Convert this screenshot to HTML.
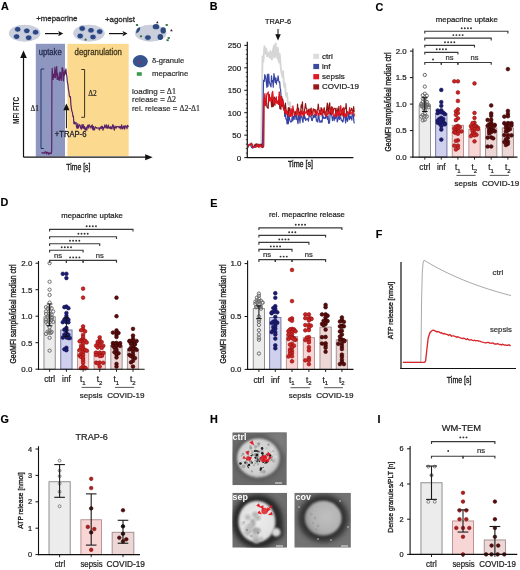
<!DOCTYPE html>
<html><head><meta charset="utf-8"><style>
html,body{margin:0;padding:0;background:#fff;}
svg{display:block;font-family:"Liberation Sans", sans-serif;will-change:transform;}
</style></head><body>
<svg width="520" height="570" viewBox="0 0 520 570">
<rect width="520" height="570" fill="#fff"/>
<text x="0.90" y="9.90" font-size="10.8" fill="#000" text-anchor="start" font-weight="bold" stroke="#000" stroke-width="0.15" >A</text>
<text x="36.20" y="21.20" font-size="8.0" fill="#2a2a2a" text-anchor="start" textLength="41.20" lengthAdjust="spacingAndGlyphs" stroke="#2a2a2a" stroke-width="0.3" >+mepacrine</text>
<text x="105.00" y="21.80" font-size="8.0" fill="#2a2a2a" text-anchor="start" textLength="30.00" lengthAdjust="spacingAndGlyphs" stroke="#2a2a2a" stroke-width="0.3" >+agonist</text>
<ellipse cx="24.65" cy="33.30" rx="15.80" ry="8.50" fill="#cbcfdc" stroke="none" stroke-width="1" />
<ellipse cx="17.70" cy="29.30" rx="3.30" ry="2.90" fill="#2b4784" stroke="#e4e8f2" stroke-width="0.7" />
<ellipse cx="26.80" cy="30.80" rx="3.30" ry="2.90" fill="#2b4784" stroke="#e4e8f2" stroke-width="0.7" />
<ellipse cx="35.60" cy="32.20" rx="3.30" ry="2.90" fill="#2b4784" stroke="#e4e8f2" stroke-width="0.7" />
<ellipse cx="16.60" cy="36.60" rx="3.30" ry="2.90" fill="#2b4784" stroke="#e4e8f2" stroke-width="0.7" />
<ellipse cx="28.70" cy="37.70" rx="3.30" ry="2.90" fill="#2b4784" stroke="#e4e8f2" stroke-width="0.7" />
<ellipse cx="89.00" cy="33.20" rx="15.80" ry="8.50" fill="#cbcfdc" stroke="none" stroke-width="1" />
<ellipse cx="82.20" cy="28.50" rx="3.30" ry="2.90" fill="#2b4784" stroke="#e4e8f2" stroke-width="0.7" />
<ellipse cx="91.00" cy="30.30" rx="3.30" ry="2.90" fill="#2b4784" stroke="#e4e8f2" stroke-width="0.7" />
<ellipse cx="99.70" cy="31.60" rx="3.30" ry="2.90" fill="#2b4784" stroke="#e4e8f2" stroke-width="0.7" />
<ellipse cx="80.20" cy="36.00" rx="3.30" ry="2.90" fill="#2b4784" stroke="#e4e8f2" stroke-width="0.7" />
<ellipse cx="93.00" cy="37.00" rx="3.30" ry="2.90" fill="#2b4784" stroke="#e4e8f2" stroke-width="0.7" />
<circle cx="85.60" cy="39.70" r="1.10" fill="#3a6a50" stroke="none" stroke-width="1" />
<ellipse cx="150.70" cy="33.20" rx="15.80" ry="8.50" fill="#cbcfdc" stroke="none" stroke-width="1" />
<path d="M136.2,33.5 Q135.8,27.5 140.2,27.2 Q140.8,31 136.2,33.5 Z" fill="#2c4a80"/>
<ellipse cx="156.00" cy="26.70" rx="3.30" ry="2.60" fill="#2c4a80" stroke="none" stroke-width="1" />
<ellipse cx="163.20" cy="30.40" rx="2.70" ry="3.10" fill="#2c4a80" stroke="none" stroke-width="1" />
<ellipse cx="147.90" cy="37.60" rx="3.30" ry="2.80" fill="#2c4a80" stroke="#dfe4f0" stroke-width="0.6" />
<ellipse cx="160.30" cy="37.00" rx="2.80" ry="2.90" fill="#2c4a80" stroke="none" stroke-width="1" />
<rect x="135.90" y="24.10" width="2.20" height="1.80" fill="#2e6e3e" stroke="none" stroke-width="1" />
<rect x="165.60" y="24.10" width="2.20" height="1.80" fill="#2e6e3e" stroke="none" stroke-width="1" />
<rect x="139.90" y="35.40" width="2.20" height="1.80" fill="#2e6e3e" stroke="none" stroke-width="1" />
<rect x="167.60" y="37.10" width="2.20" height="1.80" fill="#2e6e3e" stroke="none" stroke-width="1" />
<rect x="166.50" y="39.30" width="2.20" height="1.80" fill="#2e6e3e" stroke="none" stroke-width="1" />
<path d="M156.00,23.30 L157.30,21.00 L158.60,23.30 Z" fill="#3a1a30"/>
<path d="M170.10,31.30 L171.40,29.00 L172.70,31.30 Z" fill="#3a1a30"/>
<line x1="45.00" y1="33.60" x2="58.70" y2="33.60" stroke="#111" stroke-width="1.2" />
<path d="M58.20,30.90 L63.20,33.60 L58.20,36.30 L59.20,33.60 Z" fill="#111"/>
<line x1="109.00" y1="33.60" x2="123.00" y2="33.60" stroke="#111" stroke-width="1.2" />
<path d="M122.50,30.90 L127.50,33.60 L122.50,36.30 L123.50,33.60 Z" fill="#111"/>
<rect x="35.80" y="43.80" width="29.20" height="112.80" fill="#8d97c0" stroke="none" stroke-width="1" />
<rect x="67.40" y="43.80" width="61.30" height="112.30" fill="#fbda90" stroke="none" stroke-width="1" />
<text x="38.70" y="54.80" font-size="8.2" fill="#262c50" text-anchor="start" textLength="23.00" lengthAdjust="spacingAndGlyphs" stroke="#262c50" stroke-width="0.3" >uptake</text>
<text x="74.60" y="55.00" font-size="8.2" fill="#42361a" text-anchor="start" textLength="47.30" lengthAdjust="spacingAndGlyphs" stroke="#42361a" stroke-width="0.3" >degranulation</text>
<ellipse cx="140.30" cy="61.30" rx="7.50" ry="6.20" fill="#36538f" stroke="none" stroke-width="1" />
<ellipse cx="139.50" cy="62.00" rx="2.00" ry="1.50" fill="#7a3a6a" stroke="none" stroke-width="1" opacity="0.8"/>
<text x="151.90" y="62.80" font-size="7.7" fill="#333" text-anchor="start" textLength="32.30" lengthAdjust="spacingAndGlyphs" stroke="#333" stroke-width="0.22" >&#948;-granule</text>
<rect x="136.80" y="72.20" width="5.00" height="3.60" fill="#3c9a4e" stroke="none" stroke-width="1" />
<text x="151.90" y="75.60" font-size="7.8" fill="#333" text-anchor="start" textLength="36.40" lengthAdjust="spacingAndGlyphs" stroke="#333" stroke-width="0.22" >mepacrine</text>
<text x="132.00" y="93.60" font-size="7.9" fill="#333" text-anchor="start" textLength="44.00" lengthAdjust="spacingAndGlyphs" stroke="#333" stroke-width="0.22" >loading = <tspan font-family="Liberation Serif">&#916;1</tspan></text>
<text x="132.00" y="101.70" font-size="7.9" fill="#333" text-anchor="start" textLength="44.00" lengthAdjust="spacingAndGlyphs" stroke="#333" stroke-width="0.22" >release = <tspan font-family="Liberation Serif">&#916;2</tspan></text>
<text x="132.00" y="111.40" font-size="7.8" fill="#333" text-anchor="start" textLength="68.00" lengthAdjust="spacingAndGlyphs" stroke="#333" stroke-width="0.22" >rel. release = <tspan font-family="Liberation Serif">&#916;2-&#916;1</tspan></text>
<line x1="23.50" y1="157.20" x2="23.50" y2="56.00" stroke="#111" stroke-width="1.2" />
<path d="M20.2,58 L23.5,50.6 L26.8,58 Z" fill="#111"/>
<line x1="23.50" y1="157.20" x2="147.00" y2="157.20" stroke="#111" stroke-width="1.2" />
<path d="M145.2,154.2 L152.7,157.2 L145.2,160.2 Z" fill="#111"/>
<path d="M44.2,69 L41,69 L41,148.5 L43.8,148.5" stroke="#283068" stroke-width="1" fill="none" />
<path d="M81.3,69.5 L84.6,69.5 L84.6,117.3 L81.3,117.3" stroke="#3a3020" stroke-width="1" fill="none" />
<text x="30.60" y="110.80" font-size="8.8" fill="#222" text-anchor="start" font-family='"Liberation Serif", serif' textLength="8.40" lengthAdjust="spacingAndGlyphs" stroke="#222" stroke-width="0.22" >&#916;1</text>
<text x="88.20" y="95.80" font-size="8.8" fill="#222" text-anchor="start" font-family='"Liberation Serif", serif' textLength="8.50" lengthAdjust="spacingAndGlyphs" stroke="#222" stroke-width="0.22" >&#916;2</text>
<line x1="66.40" y1="128.30" x2="66.40" y2="108.00" stroke="#111" stroke-width="1" />
<path d="M63.3,110.3 L66.4,103.4 L69.5,110.3 Z" fill="#111"/>
<text x="54.80" y="137.20" font-size="8.6" fill="#1e1e2a" text-anchor="start" textLength="31.60" lengthAdjust="spacingAndGlyphs" stroke="#1e1e2a" stroke-width="0.3" >+TRAP-6</text>
<text x="19.00" y="110.40" font-size="8.4" fill="#222" text-anchor="middle" font-weight="bold" textLength="27.00" lengthAdjust="spacingAndGlyphs" transform="rotate(-90 19.00 110.40)" >MFI FITC</text>
<text x="66.30" y="169.80" font-size="8.8" fill="#1a1a1a" text-anchor="start" textLength="24.10" lengthAdjust="spacingAndGlyphs" stroke="#1a1a1a" stroke-width="0.35" >Time [s]</text>
<path d="M41.60,152.32 L42.30,153.11 L43.00,152.66 L43.70,153.27 L44.40,153.33 L45.10,151.87 L45.80,151.73 L46.50,153.88 L47.20,152.37 L47.90,152.31 L48.60,154.29 L49.30,152.92 L50.00,153.87 L50.70,152.94 L51.40,153.36 L51.70,150.00 L51.90,80.00 L52.20,68.33 L52.65,75.84 L53.10,79.45 L53.55,74.11 L54.00,77.49 L54.45,76.41 L54.90,66.99 L55.35,77.75 L55.80,75.16 L56.25,70.67 L56.70,66.48 L57.15,79.42 L57.60,73.33 L58.05,77.14 L58.50,79.62 L58.95,77.07 L59.40,80.28 L59.85,72.12 L60.30,78.41 L60.75,72.89 L61.20,80.50 L61.65,79.62 L62.10,67.51 L62.55,68.11 L63.00,69.36 L63.45,80.96 L63.90,72.76 L64.35,75.71 L64.80,70.67 L65.25,73.86 L65.70,71.98 L65.90,68.96 L66.40,73.81 L66.90,77.01 L67.40,82.46 L67.90,84.11 L68.40,89.05 L68.90,91.75 L69.40,95.91 L69.90,96.88 L70.40,96.53 L70.90,104.62 L71.40,108.56 L71.90,111.35 L72.40,112.21 L72.90,116.43 L73.40,116.13 L73.90,123.68 L74.20,121.50 L74.80,123.91 L75.40,123.02 L76.00,122.37 L76.60,127.29 L77.20,128.45 L77.80,123.72 L78.40,127.98 L79.00,126.01 L79.60,124.74 L80.20,125.68 L80.80,128.46 L81.40,129.14 L82.00,124.58 L82.60,127.84 L83.20,124.71 L83.80,128.52 L84.40,126.39 L85.00,129.50 L85.60,130.08 L86.20,127.44 L86.80,130.22 L87.40,126.37 L88.00,125.08 L88.60,128.02 L89.20,124.84 L89.80,125.78 L90.40,126.96 L91.00,128.10 L91.60,125.56 L92.20,124.93 L92.80,129.55 L93.40,126.45 L94.00,130.06 L94.60,129.72 L95.20,126.81 L95.80,127.27 L96.40,127.61 L97.00,128.30 L97.60,128.03 L98.20,127.83 L98.80,128.17 L99.40,129.97 L100.00,127.54 L100.60,127.11 L101.20,128.73 L101.80,126.03 L102.40,126.39 L103.00,130.18 L103.60,127.62 L104.20,127.77 L104.80,124.76 L105.40,127.03 L106.00,127.95 L106.60,124.81 L107.20,128.15 L107.80,128.24 L108.40,125.04 L109.00,128.21 L109.60,127.31 L110.20,128.50 L110.80,126.67 L111.40,128.66 L112.00,128.83 L112.60,124.82 L113.20,125.04 L113.80,128.49 L114.40,130.09 L115.00,126.11 L115.60,127.26 L116.20,128.02 L116.80,126.49 L117.40,126.74 L118.00,126.45 L118.60,126.77 L119.20,128.04 L119.80,126.38 L120.40,126.81 L121.00,129.02 L121.60,124.85 L122.20,127.89 L122.80,128.82 L123.40,126.44 L124.00,125.95 L124.60,129.20 L125.20,126.04 L125.80,125.75 L126.40,127.14 L127.00,128.61 L127.60,125.27 L128.20,126.50 L128.80,126.57" stroke="#5a2468" stroke-width="1.2" fill="none" stroke-linejoin="round"/>
<text x="209.80" y="10.30" font-size="10.8" fill="#000" text-anchor="start" font-weight="bold" stroke="#000" stroke-width="0.15" >B</text>
<text x="264.90" y="24.00" font-size="7.7" fill="#222" text-anchor="start" textLength="26.20" lengthAdjust="spacingAndGlyphs" stroke="#222" stroke-width="0.22" >TRAP-6</text>
<line x1="278.00" y1="29.00" x2="278.00" y2="36.00" stroke="#111" stroke-width="1" />
<path d="M275.2,34.2 L278,40.4 L280.8,34.2 Z" fill="#111"/>
<line x1="244.30" y1="157.60" x2="247.30" y2="157.60" stroke="#111" stroke-width="1" />
<text x="241.20" y="160.50" font-size="8" fill="#222" text-anchor="end" stroke="#222" stroke-width="0.22" >0</text>
<line x1="244.30" y1="135.16" x2="247.30" y2="135.16" stroke="#111" stroke-width="1" />
<text x="241.20" y="138.06" font-size="8" fill="#222" text-anchor="end" stroke="#222" stroke-width="0.22" >50</text>
<line x1="244.30" y1="112.72" x2="247.30" y2="112.72" stroke="#111" stroke-width="1" />
<text x="241.20" y="115.62" font-size="8" fill="#222" text-anchor="end" stroke="#222" stroke-width="0.22" >100</text>
<line x1="244.30" y1="90.28" x2="247.30" y2="90.28" stroke="#111" stroke-width="1" />
<text x="241.20" y="93.18" font-size="8" fill="#222" text-anchor="end" stroke="#222" stroke-width="0.22" >150</text>
<line x1="244.30" y1="67.84" x2="247.30" y2="67.84" stroke="#111" stroke-width="1" />
<text x="241.20" y="70.74" font-size="8" fill="#222" text-anchor="end" stroke="#222" stroke-width="0.22" >200</text>
<line x1="244.30" y1="45.40" x2="247.30" y2="45.40" stroke="#111" stroke-width="1" />
<text x="241.20" y="48.30" font-size="8" fill="#222" text-anchor="end" stroke="#222" stroke-width="0.22" >250</text>
<line x1="245.80" y1="153.11" x2="247.30" y2="153.11" stroke="#111" stroke-width="0.8" />
<line x1="245.80" y1="148.62" x2="247.30" y2="148.62" stroke="#111" stroke-width="0.8" />
<line x1="245.80" y1="144.14" x2="247.30" y2="144.14" stroke="#111" stroke-width="0.8" />
<line x1="245.80" y1="139.65" x2="247.30" y2="139.65" stroke="#111" stroke-width="0.8" />
<line x1="245.80" y1="130.67" x2="247.30" y2="130.67" stroke="#111" stroke-width="0.8" />
<line x1="245.80" y1="126.18" x2="247.30" y2="126.18" stroke="#111" stroke-width="0.8" />
<line x1="245.80" y1="121.70" x2="247.30" y2="121.70" stroke="#111" stroke-width="0.8" />
<line x1="245.80" y1="117.21" x2="247.30" y2="117.21" stroke="#111" stroke-width="0.8" />
<line x1="245.80" y1="108.23" x2="247.30" y2="108.23" stroke="#111" stroke-width="0.8" />
<line x1="245.80" y1="103.74" x2="247.30" y2="103.74" stroke="#111" stroke-width="0.8" />
<line x1="245.80" y1="99.26" x2="247.30" y2="99.26" stroke="#111" stroke-width="0.8" />
<line x1="245.80" y1="94.77" x2="247.30" y2="94.77" stroke="#111" stroke-width="0.8" />
<line x1="245.80" y1="85.79" x2="247.30" y2="85.79" stroke="#111" stroke-width="0.8" />
<line x1="245.80" y1="81.30" x2="247.30" y2="81.30" stroke="#111" stroke-width="0.8" />
<line x1="245.80" y1="76.82" x2="247.30" y2="76.82" stroke="#111" stroke-width="0.8" />
<line x1="245.80" y1="72.33" x2="247.30" y2="72.33" stroke="#111" stroke-width="0.8" />
<line x1="245.80" y1="63.35" x2="247.30" y2="63.35" stroke="#111" stroke-width="0.8" />
<line x1="245.80" y1="58.86" x2="247.30" y2="58.86" stroke="#111" stroke-width="0.8" />
<line x1="245.80" y1="54.38" x2="247.30" y2="54.38" stroke="#111" stroke-width="0.8" />
<line x1="245.80" y1="49.89" x2="247.30" y2="49.89" stroke="#111" stroke-width="0.8" />
<line x1="247.30" y1="41.70" x2="247.30" y2="158.10" stroke="#111" stroke-width="1.2" />
<line x1="246.70" y1="157.60" x2="353.40" y2="157.60" stroke="#111" stroke-width="1.2" />
<text x="288.00" y="167.30" font-size="8.8" fill="#1a1a1a" text-anchor="start" textLength="25.00" lengthAdjust="spacingAndGlyphs" stroke="#1a1a1a" stroke-width="0.35" >Time [s]</text>
<path d="M248.00,145.74 L249.20,145.16 L250.40,143.20 L251.60,145.67 L252.80,145.44 L254.00,145.01 L255.20,147.18 L256.40,145.42 L257.60,144.78 L258.80,143.90 L260.00,147.67 L261.20,146.54 L262.50,56.34 L263.30,61.86 L264.01,51.63 L264.45,46.32 L265.21,48.42 L265.86,53.87 L266.28,48.61 L266.72,53.40 L267.23,56.43 L267.82,52.50 L268.54,53.74 L269.19,55.85 L269.85,57.74 L270.37,51.00 L271.15,53.09 L271.82,59.39 L272.32,58.81 L272.77,51.36 L273.33,48.83 L273.89,45.91 L274.62,57.33 L275.11,44.51 L275.70,43.46 L276.27,56.19 L276.91,47.89 L277.43,58.46 L277.97,48.07 L278.66,61.19 L279.17,62.49 L279.61,53.87 L280.10,58.21 L280.68,66.68 L281.36,71.47 L282.01,75.35 L282.58,77.34 L283.10,71.27 L283.81,82.80 L284.55,87.55 L285.11,83.37 L285.76,94.39 L286.54,96.61 L287.05,93.24 L287.59,100.07 L288.04,103.73 L288.67,104.55 L289.30,105.52 L289.89,102.16 L290.48,107.31 L291.21,112.55 L291.69,107.52 L292.40,114.40 L292.89,111.15 L293.65,116.37 L294.41,112.35 L294.98,115.84 L295.75,115.24 L296.26,112.61 L296.79,115.52 L297.23,115.29 L297.96,113.55 L298.71,115.39 L299.23,114.31 L299.71,114.66 L300.18,114.69 L300.95,113.36 L301.58,115.68 L302.01,112.23 L302.77,116.21 L303.37,113.03 L304.15,115.97 L304.83,112.27 L305.51,112.75 L306.05,113.24 L306.79,114.44 L307.52,113.74 L308.07,113.70 L308.52,113.44 L309.26,113.04 L309.94,113.70 L310.67,115.93 L311.10,113.61 L311.60,113.18 L312.24,112.18 L312.66,114.96 L313.16,115.55 L313.82,114.33 L314.35,113.32 L314.93,112.69 L315.67,114.59 L316.20,115.70 L316.92,112.50 L317.68,115.07 L318.26,115.08 L318.83,113.50 L319.37,112.54 L319.95,115.98 L320.68,116.12 L321.31,114.92 L321.74,115.70 L322.17,112.59 L322.64,116.10 L323.22,113.48 L323.93,112.01 L324.42,114.18 L324.84,114.19 L325.33,115.09 L326.00,113.97 L326.69,114.54 L327.44,115.92 L328.12,115.73 L328.76,112.23 L329.39,112.36 L330.15,114.23 L330.64,113.07 L331.29,113.09 L332.04,111.91 L332.65,112.76 L333.40,112.47 L333.85,114.33 L334.54,114.12 L335.25,116.02 L335.74,114.81 L336.21,115.64 L336.89,112.54 L337.65,114.10 L338.10,115.32 L338.62,113.04 L339.23,112.52 L339.76,114.60 L340.51,115.38 L341.28,113.96 L341.77,113.91 L342.41,116.19 L343.01,114.51 L343.64,114.11 L344.08,113.89 L344.84,112.17 L345.43,115.74 L346.15,112.27 L346.68,115.45 L347.43,115.73 L347.86,115.44 L348.53,114.86 L349.17,115.84 L349.64,114.02 L350.13,113.93 L350.68,114.46 L351.16,115.39 L351.81,113.93 L352.45,112.47 L353.14,112.67 L353.67,114.90 L354.17,111.83 L354.64,115.24" stroke="#d6d6d6" stroke-width="1.9" fill="none" stroke-linejoin="round"/>
<path d="M248.00,145.62 L249.20,144.63 L250.40,144.59 L251.60,147.41 L252.80,148.12 L254.00,146.16 L255.20,146.70 L256.40,143.81 L257.60,144.46 L258.80,144.94 L260.00,145.17 L261.20,144.61 L262.40,147.39 L263.50,80.41 L264.30,81.27 L264.78,74.58 L265.22,75.83 L265.67,77.72 L266.21,81.78 L266.93,87.32 L267.37,74.45 L267.98,86.28 L268.75,73.99 L269.21,81.51 L269.68,83.10 L270.32,85.24 L271.00,86.85 L271.48,75.87 L272.04,81.57 L272.68,80.74 L273.23,87.15 L273.92,73.69 L274.69,78.06 L275.24,82.37 L275.90,77.91 L276.36,84.21 L276.92,80.24 L277.63,80.41 L278.06,75.77 L278.63,80.13 L279.13,82.44 L279.69,81.85 L280.15,88.13 L280.63,89.61 L281.07,97.62 L281.61,96.68 L282.05,101.31 L282.54,105.97 L283.14,101.87 L283.73,104.88 L284.21,107.37 L284.76,116.49 L285.45,112.07 L285.87,118.95 L286.57,119.57 L287.08,123.85 L287.72,113.34 L288.32,123.68 L289.02,114.98 L289.53,118.26 L290.17,121.11 L290.91,122.19 L291.65,120.94 L292.25,116.44 L292.75,120.87 L293.42,116.46 L294.16,119.41 L294.73,113.39 L295.38,114.03 L296.07,119.44 L296.82,115.44 L297.36,119.97 L297.98,123.76 L298.73,115.35 L299.48,118.18 L300.03,122.88 L300.57,113.88 L301.18,117.24 L301.79,116.39 L302.30,119.56 L302.97,122.41 L303.50,116.45 L304.16,113.87 L304.59,118.69 L305.07,116.75 L305.58,120.41 L306.00,120.06 L306.49,119.28 L307.25,118.54 L307.72,118.94 L308.45,121.25 L309.18,114.98 L309.79,115.74 L310.45,116.80 L311.07,116.61 L311.75,120.47 L312.30,120.63 L312.81,118.08 L313.24,115.28 L314.00,117.49 L314.73,114.28 L315.20,117.04 L315.84,115.49 L316.48,121.11 L317.04,119.80 L317.75,122.11 L318.26,113.48 L318.70,114.94 L319.41,120.08 L319.94,122.46 L320.66,121.67 L321.09,120.62 L321.57,122.18 L322.10,121.89 L322.63,114.65 L323.09,116.56 L323.67,118.26 L324.38,118.50 L324.97,117.11 L325.54,118.37 L326.06,113.98 L326.79,116.50 L327.45,119.34 L328.09,115.82 L328.56,123.27 L329.01,123.33 L329.52,122.72 L330.16,113.54 L330.85,113.71 L331.35,113.96 L331.84,115.79 L332.46,120.54 L332.91,117.40 L333.69,115.70 L334.24,120.73 L334.87,116.73 L335.37,118.74 L336.09,115.78 L336.65,114.65 L337.24,121.84 L337.86,120.04 L338.42,117.34 L339.03,113.68 L339.54,119.43 L340.23,117.13 L340.84,117.52 L341.40,120.60 L342.18,120.38 L342.76,122.08 L343.26,120.47 L343.80,113.84 L344.34,116.86 L344.95,116.97 L345.61,122.85 L346.32,113.28 L346.80,119.22 L347.53,121.43 L348.18,117.08 L348.77,113.61 L349.53,119.72 L350.08,116.24 L350.58,118.27 L351.18,116.81 L351.86,120.11 L352.29,114.35 L352.85,113.52 L353.32,114.93 L353.86,121.15 L354.30,123.40" stroke="#3844a4" stroke-width="1.2" fill="none" stroke-linejoin="round"/>
<path d="M248.00,147.60 L249.20,144.39 L250.40,144.66 L251.60,143.11 L252.80,146.72 L254.00,146.80 L255.20,144.22 L256.40,144.63 L257.60,146.54 L258.80,144.49 L260.00,146.04 L261.20,143.99 L262.40,147.54 L263.60,146.97 L263.80,101.95 L264.60,95.82 L265.15,105.60 L265.86,99.94 L266.33,101.17 L266.99,107.06 L267.65,107.70 L268.19,108.31 L268.68,94.65 L269.25,94.47 L269.82,100.31 L270.56,99.10 L271.02,100.59 L271.67,106.81 L272.12,96.23 L272.73,106.62 L273.31,106.25 L274.02,101.94 L274.47,97.09 L274.93,105.30 L275.36,98.28 L275.82,101.56 L276.27,102.25 L276.94,101.42 L277.52,102.18 L278.10,100.49 L278.55,102.34 L279.06,96.37 L279.81,108.56 L280.29,98.84 L280.91,109.29 L281.59,96.46 L282.16,106.04 L282.78,98.98 L283.30,108.23 L283.79,104.75 L284.37,110.10 L284.93,113.28 L285.47,103.12 L286.10,111.57 L286.85,111.44 L287.37,115.09 L287.84,113.76 L288.34,107.60 L288.86,113.82 L289.49,107.88 L290.02,109.71 L290.64,111.05 L291.33,111.76 L291.89,112.76 L292.50,109.61 L293.25,110.91 L294.01,112.07 L294.52,115.03 L295.19,114.73 L295.77,111.46 L296.47,113.79 L297.05,114.82 L297.52,104.01 L298.02,110.64 L298.57,108.32 L299.19,115.49 L299.70,112.07 L300.44,115.36 L301.19,104.78 L301.76,107.94 L302.48,101.90 L303.01,114.77 L303.65,115.82 L304.35,111.86 L304.87,108.01 L305.54,103.48 L306.04,107.87 L306.79,108.95 L307.37,113.07 L307.80,114.76 L308.51,110.16 L309.12,109.11 L309.86,115.30 L310.49,109.44 L311.16,108.04 L311.65,115.62 L312.24,112.73 L312.70,114.07 L313.21,108.92 L313.67,108.86 L314.10,110.41 L314.75,109.60 L315.25,109.85 L315.92,114.38 L316.59,112.75 L317.18,109.77 L317.78,109.17 L318.27,104.05 L318.78,108.56 L319.26,111.65 L319.86,110.73 L320.62,114.45 L321.05,107.70 L321.68,108.56 L322.25,112.02 L322.79,113.02 L323.41,113.01 L324.19,107.68 L324.94,114.47 L325.64,114.94 L326.14,112.73 L326.60,109.60 L327.30,103.15 L328.02,113.91 L328.51,111.51 L329.06,104.87 L329.71,102.89 L330.16,111.37 L330.91,115.00 L331.50,106.76 L332.27,112.95 L332.81,113.65 L333.58,109.57 L334.01,108.40 L334.57,108.46 L335.27,108.38 L335.84,114.42 L336.42,113.09 L337.04,108.17 L337.80,114.62 L338.41,110.23 L338.92,106.43 L339.38,113.90 L339.88,114.14 L340.38,115.78 L341.04,113.36 L341.66,114.08 L342.16,109.32 L342.58,109.02 L343.18,108.22 L343.69,115.46 L344.28,110.12 L345.05,108.30 L345.65,108.51 L346.11,103.61 L346.65,112.44 L347.19,111.52 L347.61,113.09 L348.38,112.32 L349.14,112.74 L349.70,113.95 L350.22,111.75 L350.92,109.88 L351.68,108.22 L352.36,112.19 L353.09,112.04 L353.65,106.70 L354.17,111.87" stroke="#8e1414" stroke-width="1.2" fill="none" stroke-linejoin="round"/>
<path d="M248.00,146.78 L249.20,144.48 L250.40,144.49 L251.60,143.60 L252.80,147.17 L254.00,146.93 L255.20,147.38 L256.40,146.96 L257.60,144.22 L258.80,147.47 L260.00,145.31 L261.20,147.02 L262.40,146.59 L263.60,145.85 L264.10,98.36 L264.90,93.51 L265.54,105.33 L266.06,103.43 L266.79,93.91 L267.50,93.67 L268.19,91.91 L268.90,101.85 L269.62,98.55 L270.31,97.44 L270.89,100.31 L271.46,101.03 L271.93,93.77 L272.63,91.38 L273.30,97.58 L273.99,103.60 L274.65,99.17 L275.14,102.63 L275.75,101.90 L276.33,96.84 L276.89,103.66 L277.49,102.16 L278.00,102.75 L278.55,104.49 L279.20,91.84 L279.76,95.21 L280.52,106.02 L280.99,96.78 L281.71,100.83 L282.19,104.75 L282.92,100.75 L283.63,109.99 L284.36,109.36 L285.04,112.87 L285.81,109.34 L286.49,113.94 L287.13,111.23 L287.76,113.79 L288.44,114.37 L288.97,116.06 L289.64,115.95 L290.08,112.14 L290.70,116.48 L291.24,108.92 L291.70,114.59 L292.34,116.20 L292.89,105.97 L293.49,109.80 L294.08,111.95 L294.51,113.16 L295.20,114.90 L295.92,114.90 L296.47,115.01 L296.96,109.22 L297.41,111.32 L297.84,111.20 L298.43,112.78 L298.95,113.64 L299.68,115.96 L300.18,114.58 L300.62,115.84 L301.19,110.47 L301.63,112.92 L302.34,114.44 L302.96,111.38 L303.69,115.68 L304.24,114.28 L304.74,111.60 L305.50,113.03 L306.07,112.64 L306.80,110.31 L307.27,112.93 L307.88,114.61 L308.40,112.44 L309.09,115.99 L309.82,109.58 L310.39,112.29 L311.07,114.67 L311.53,114.54 L312.12,114.84 L312.70,112.21 L313.24,110.03 L313.97,110.63 L314.74,111.29 L315.26,113.45 L315.87,115.37 L316.46,115.39 L316.89,110.86 L317.35,112.53 L318.09,113.19 L318.81,115.22 L319.46,113.68 L319.89,110.57 L320.61,110.27 L321.37,114.91 L322.01,115.01 L322.43,113.53 L322.97,109.07 L323.55,110.20 L324.00,110.19 L324.72,110.79 L325.40,111.97 L325.91,115.80 L326.54,116.35 L327.18,113.09 L327.92,114.02 L328.52,112.65 L329.27,113.57 L329.82,111.93 L330.48,108.76 L331.05,110.91 L331.83,113.54 L332.45,107.01 L332.92,114.43 L333.69,115.27 L334.22,115.30 L334.67,115.95 L335.11,113.98 L335.59,116.65 L336.03,115.10 L336.77,112.02 L337.44,111.04 L337.91,116.37 L338.52,113.02 L339.00,111.69 L339.57,115.00 L340.20,112.78 L340.72,105.69 L341.20,110.60 L341.71,110.96 L342.24,116.02 L342.70,111.70 L343.27,111.66 L343.81,107.37 L344.26,116.03 L344.98,113.55 L345.45,116.75 L345.96,115.67 L346.38,114.16 L347.07,115.99 L347.69,112.24 L348.40,112.46 L349.00,112.80 L349.64,107.63 L350.18,113.68 L350.80,113.88 L351.44,112.75 L352.02,112.91 L352.70,111.42 L353.32,112.77 L353.82,113.64 L354.57,116.45" stroke="#e0141e" stroke-width="1.2" fill="none" stroke-linejoin="round"/>
<rect x="313.30" y="53.70" width="5.80" height="5.20" fill="#dcdcdc" stroke="none" stroke-width="1" />
<text x="322.00" y="58.70" font-size="8" fill="#222" text-anchor="start" stroke="#222" stroke-width="0.22" >ctrl</text>
<rect x="313.30" y="63.90" width="5.80" height="5.20" fill="#3a4a9c" stroke="none" stroke-width="1" />
<text x="322.00" y="68.90" font-size="8" fill="#222" text-anchor="start" stroke="#222" stroke-width="0.22" >inf</text>
<rect x="313.30" y="74.10" width="5.80" height="5.20" fill="#e01a22" stroke="none" stroke-width="1" />
<text x="322.00" y="79.10" font-size="8" fill="#222" text-anchor="start" stroke="#222" stroke-width="0.22" >sepsis</text>
<rect x="313.30" y="84.30" width="5.80" height="5.20" fill="#9a1818" stroke="none" stroke-width="1" />
<text x="322.00" y="89.30" font-size="8" fill="#222" text-anchor="start" stroke="#222" stroke-width="0.22" >COVID-19</text>
<text x="375.60" y="10.50" font-size="10.8" fill="#000" text-anchor="start" font-weight="bold" stroke="#000" stroke-width="0.15" >C</text>
<rect x="419.15" y="105.16" width="11.30" height="51.94" fill="#ececec" stroke="#858585" stroke-width="0.9" />
<rect x="435.65" y="113.64" width="11.30" height="43.46" fill="#cfd0ee" stroke="#6a6c9c" stroke-width="0.9" />
<rect x="452.25" y="125.30" width="11.30" height="31.80" fill="#f9d6d6" stroke="#b48c8c" stroke-width="0.9" />
<rect x="468.85" y="129.54" width="11.30" height="27.56" fill="#f9d6d6" stroke="#b48c8c" stroke-width="0.9" />
<rect x="485.55" y="127.95" width="11.30" height="29.15" fill="#ecd6d6" stroke="#a08888" stroke-width="0.9" />
<rect x="502.25" y="127.95" width="11.30" height="29.15" fill="#ecd6d6" stroke="#a08888" stroke-width="0.9" />
<circle cx="424.80" cy="74.95" r="1.65" fill="none" stroke="#6e6e6e" stroke-width="1.0" />
<circle cx="424.80" cy="86.61" r="1.65" fill="none" stroke="#6e6e6e" stroke-width="1.0" />
<circle cx="424.80" cy="93.69" r="1.65" fill="none" stroke="#6e6e6e" stroke-width="1.0" />
<circle cx="422.80" cy="95.14" r="1.65" fill="none" stroke="#6e6e6e" stroke-width="1.0" />
<circle cx="426.80" cy="95.64" r="1.65" fill="none" stroke="#6e6e6e" stroke-width="1.0" />
<circle cx="424.80" cy="97.52" r="1.65" fill="none" stroke="#6e6e6e" stroke-width="1.0" />
<circle cx="422.80" cy="98.56" r="1.65" fill="none" stroke="#6e6e6e" stroke-width="1.0" />
<circle cx="424.80" cy="100.48" r="1.65" fill="none" stroke="#6e6e6e" stroke-width="1.0" />
<circle cx="422.80" cy="101.83" r="1.65" fill="none" stroke="#6e6e6e" stroke-width="1.0" />
<circle cx="426.80" cy="101.90" r="1.65" fill="none" stroke="#6e6e6e" stroke-width="1.0" />
<circle cx="424.80" cy="102.74" r="1.65" fill="none" stroke="#6e6e6e" stroke-width="1.0" />
<circle cx="421.20" cy="103.86" r="1.65" fill="none" stroke="#6e6e6e" stroke-width="1.0" />
<circle cx="424.80" cy="104.78" r="1.65" fill="none" stroke="#6e6e6e" stroke-width="1.0" />
<circle cx="428.40" cy="104.92" r="1.65" fill="none" stroke="#6e6e6e" stroke-width="1.0" />
<circle cx="421.71" cy="104.95" r="1.65" fill="none" stroke="#6e6e6e" stroke-width="1.0" />
<circle cx="427.08" cy="104.96" r="1.65" fill="none" stroke="#6e6e6e" stroke-width="1.0" />
<circle cx="427.12" cy="105.55" r="1.65" fill="none" stroke="#6e6e6e" stroke-width="1.0" />
<circle cx="424.38" cy="105.59" r="1.65" fill="none" stroke="#6e6e6e" stroke-width="1.0" />
<circle cx="421.71" cy="106.15" r="1.65" fill="none" stroke="#6e6e6e" stroke-width="1.0" />
<circle cx="422.50" cy="106.47" r="1.65" fill="none" stroke="#6e6e6e" stroke-width="1.0" />
<circle cx="425.83" cy="106.70" r="1.65" fill="none" stroke="#6e6e6e" stroke-width="1.0" />
<circle cx="428.40" cy="107.33" r="1.65" fill="none" stroke="#6e6e6e" stroke-width="1.0" />
<circle cx="423.80" cy="108.05" r="1.65" fill="none" stroke="#6e6e6e" stroke-width="1.0" />
<circle cx="424.80" cy="110.04" r="1.65" fill="none" stroke="#6e6e6e" stroke-width="1.0" />
<circle cx="424.80" cy="113.64" r="1.65" fill="none" stroke="#6e6e6e" stroke-width="1.0" />
<circle cx="422.80" cy="114.98" r="1.65" fill="none" stroke="#6e6e6e" stroke-width="1.0" />
<circle cx="424.80" cy="115.96" r="1.65" fill="none" stroke="#6e6e6e" stroke-width="1.0" />
<circle cx="426.80" cy="116.50" r="1.65" fill="none" stroke="#6e6e6e" stroke-width="1.0" />
<circle cx="421.20" cy="116.59" r="1.65" fill="none" stroke="#6e6e6e" stroke-width="1.0" />
<circle cx="424.80" cy="119.70" r="1.65" fill="none" stroke="#6e6e6e" stroke-width="1.0" />
<circle cx="422.80" cy="120.32" r="1.65" fill="none" stroke="#6e6e6e" stroke-width="1.0" />
<circle cx="441.30" cy="89.92" r="1.85" fill="#1c1c6e" stroke="#14145a" stroke-width="0.6" />
<circle cx="441.30" cy="102.08" r="1.85" fill="#1c1c6e" stroke="#14145a" stroke-width="0.6" />
<circle cx="441.30" cy="105.85" r="1.85" fill="#1c1c6e" stroke="#14145a" stroke-width="0.6" />
<circle cx="441.30" cy="110.23" r="1.85" fill="#1c1c6e" stroke="#14145a" stroke-width="0.6" />
<circle cx="437.70" cy="110.51" r="1.85" fill="#1c1c6e" stroke="#14145a" stroke-width="0.6" />
<circle cx="439.30" cy="111.86" r="1.85" fill="#1c1c6e" stroke="#14145a" stroke-width="0.6" />
<circle cx="441.30" cy="112.26" r="1.85" fill="#1c1c6e" stroke="#14145a" stroke-width="0.6" />
<circle cx="443.30" cy="112.67" r="1.85" fill="#1c1c6e" stroke="#14145a" stroke-width="0.6" />
<circle cx="437.70" cy="113.15" r="1.85" fill="#1c1c6e" stroke="#14145a" stroke-width="0.6" />
<circle cx="444.90" cy="114.14" r="1.85" fill="#1c1c6e" stroke="#14145a" stroke-width="0.6" />
<circle cx="441.30" cy="117.74" r="1.85" fill="#1c1c6e" stroke="#14145a" stroke-width="0.6" />
<circle cx="439.30" cy="118.85" r="1.85" fill="#1c1c6e" stroke="#14145a" stroke-width="0.6" />
<circle cx="443.30" cy="119.10" r="1.85" fill="#1c1c6e" stroke="#14145a" stroke-width="0.6" />
<circle cx="441.30" cy="120.13" r="1.85" fill="#1c1c6e" stroke="#14145a" stroke-width="0.6" />
<circle cx="437.70" cy="120.50" r="1.85" fill="#1c1c6e" stroke="#14145a" stroke-width="0.6" />
<circle cx="443.30" cy="121.73" r="1.85" fill="#1c1c6e" stroke="#14145a" stroke-width="0.6" />
<circle cx="441.30" cy="122.58" r="1.85" fill="#1c1c6e" stroke="#14145a" stroke-width="0.6" />
<circle cx="437.70" cy="122.67" r="1.85" fill="#1c1c6e" stroke="#14145a" stroke-width="0.6" />
<circle cx="444.90" cy="123.64" r="1.85" fill="#1c1c6e" stroke="#14145a" stroke-width="0.6" />
<circle cx="439.71" cy="123.76" r="1.85" fill="#1c1c6e" stroke="#14145a" stroke-width="0.6" />
<circle cx="444.73" cy="124.31" r="1.85" fill="#1c1c6e" stroke="#14145a" stroke-width="0.6" />
<circle cx="441.30" cy="126.09" r="1.85" fill="#1c1c6e" stroke="#14145a" stroke-width="0.6" />
<circle cx="441.30" cy="129.56" r="1.85" fill="#1c1c6e" stroke="#14145a" stroke-width="0.6" />
<circle cx="441.30" cy="139.61" r="1.85" fill="#1c1c6e" stroke="#14145a" stroke-width="0.6" />
<circle cx="457.90" cy="81.31" r="1.85" fill="#cf2424" stroke="#8c1010" stroke-width="0.6" />
<circle cx="454.30" cy="81.31" r="1.85" fill="#cf2424" stroke="#8c1010" stroke-width="0.6" />
<circle cx="457.90" cy="92.44" r="1.85" fill="#cf2424" stroke="#8c1010" stroke-width="0.6" />
<circle cx="457.90" cy="100.92" r="1.85" fill="#cf2424" stroke="#8c1010" stroke-width="0.6" />
<circle cx="457.90" cy="109.40" r="1.85" fill="#cf2424" stroke="#8c1010" stroke-width="0.6" />
<circle cx="455.90" cy="111.39" r="1.85" fill="#cf2424" stroke="#8c1010" stroke-width="0.6" />
<circle cx="457.90" cy="113.02" r="1.85" fill="#cf2424" stroke="#8c1010" stroke-width="0.6" />
<circle cx="455.90" cy="114.80" r="1.85" fill="#cf2424" stroke="#8c1010" stroke-width="0.6" />
<circle cx="457.90" cy="118.28" r="1.85" fill="#cf2424" stroke="#8c1010" stroke-width="0.6" />
<circle cx="455.90" cy="120.16" r="1.85" fill="#cf2424" stroke="#8c1010" stroke-width="0.6" />
<circle cx="457.90" cy="125.86" r="1.85" fill="#cf2424" stroke="#8c1010" stroke-width="0.6" />
<circle cx="455.90" cy="126.70" r="1.85" fill="#cf2424" stroke="#8c1010" stroke-width="0.6" />
<circle cx="459.90" cy="127.03" r="1.85" fill="#cf2424" stroke="#8c1010" stroke-width="0.6" />
<circle cx="457.90" cy="128.36" r="1.85" fill="#cf2424" stroke="#8c1010" stroke-width="0.6" />
<circle cx="454.30" cy="128.52" r="1.85" fill="#cf2424" stroke="#8c1010" stroke-width="0.6" />
<circle cx="455.90" cy="130.23" r="1.85" fill="#cf2424" stroke="#8c1010" stroke-width="0.6" />
<circle cx="457.90" cy="131.11" r="1.85" fill="#cf2424" stroke="#8c1010" stroke-width="0.6" />
<circle cx="461.50" cy="131.38" r="1.85" fill="#cf2424" stroke="#8c1010" stroke-width="0.6" />
<circle cx="458.57" cy="131.42" r="1.85" fill="#cf2424" stroke="#8c1010" stroke-width="0.6" />
<circle cx="454.30" cy="132.19" r="1.85" fill="#cf2424" stroke="#8c1010" stroke-width="0.6" />
<circle cx="455.63" cy="132.81" r="1.85" fill="#cf2424" stroke="#8c1010" stroke-width="0.6" />
<circle cx="457.90" cy="133.76" r="1.85" fill="#cf2424" stroke="#8c1010" stroke-width="0.6" />
<circle cx="457.90" cy="140.29" r="1.85" fill="#cf2424" stroke="#8c1010" stroke-width="0.6" />
<circle cx="455.90" cy="140.85" r="1.85" fill="#cf2424" stroke="#8c1010" stroke-width="0.6" />
<circle cx="457.90" cy="145.60" r="1.85" fill="#cf2424" stroke="#8c1010" stroke-width="0.6" />
<circle cx="454.30" cy="145.65" r="1.85" fill="#cf2424" stroke="#8c1010" stroke-width="0.6" />
<circle cx="457.90" cy="147.94" r="1.85" fill="#cf2424" stroke="#8c1010" stroke-width="0.6" />
<circle cx="455.90" cy="149.51" r="1.85" fill="#cf2424" stroke="#8c1010" stroke-width="0.6" />
<circle cx="474.50" cy="83.43" r="1.85" fill="#cf2424" stroke="#8c1010" stroke-width="0.6" />
<circle cx="474.50" cy="112.97" r="1.85" fill="#cf2424" stroke="#8c1010" stroke-width="0.6" />
<circle cx="474.50" cy="117.95" r="1.85" fill="#cf2424" stroke="#8c1010" stroke-width="0.6" />
<circle cx="474.50" cy="122.67" r="1.85" fill="#cf2424" stroke="#8c1010" stroke-width="0.6" />
<circle cx="472.50" cy="123.14" r="1.85" fill="#cf2424" stroke="#8c1010" stroke-width="0.6" />
<circle cx="474.50" cy="125.77" r="1.85" fill="#cf2424" stroke="#8c1010" stroke-width="0.6" />
<circle cx="470.90" cy="126.09" r="1.85" fill="#cf2424" stroke="#8c1010" stroke-width="0.6" />
<circle cx="476.50" cy="126.43" r="1.85" fill="#cf2424" stroke="#8c1010" stroke-width="0.6" />
<circle cx="475.68" cy="126.49" r="1.85" fill="#cf2424" stroke="#8c1010" stroke-width="0.6" />
<circle cx="473.44" cy="126.92" r="1.85" fill="#cf2424" stroke="#8c1010" stroke-width="0.6" />
<circle cx="478.10" cy="127.90" r="1.85" fill="#cf2424" stroke="#8c1010" stroke-width="0.6" />
<circle cx="471.70" cy="128.02" r="1.85" fill="#cf2424" stroke="#8c1010" stroke-width="0.6" />
<circle cx="474.50" cy="129.04" r="1.85" fill="#cf2424" stroke="#8c1010" stroke-width="0.6" />
<circle cx="477.79" cy="129.24" r="1.85" fill="#cf2424" stroke="#8c1010" stroke-width="0.6" />
<circle cx="472.50" cy="130.90" r="1.85" fill="#cf2424" stroke="#8c1010" stroke-width="0.6" />
<circle cx="474.50" cy="132.96" r="1.85" fill="#cf2424" stroke="#8c1010" stroke-width="0.6" />
<circle cx="472.50" cy="134.16" r="1.85" fill="#cf2424" stroke="#8c1010" stroke-width="0.6" />
<circle cx="476.50" cy="134.77" r="1.85" fill="#cf2424" stroke="#8c1010" stroke-width="0.6" />
<circle cx="474.50" cy="135.35" r="1.85" fill="#cf2424" stroke="#8c1010" stroke-width="0.6" />
<circle cx="470.90" cy="136.11" r="1.85" fill="#cf2424" stroke="#8c1010" stroke-width="0.6" />
<circle cx="474.50" cy="141.37" r="1.85" fill="#cf2424" stroke="#8c1010" stroke-width="0.6" />
<circle cx="491.20" cy="105.47" r="1.85" fill="#5c0c0c" stroke="#360505" stroke-width="0.6" />
<circle cx="491.20" cy="113.42" r="1.85" fill="#5c0c0c" stroke="#360505" stroke-width="0.6" />
<circle cx="491.20" cy="115.86" r="1.85" fill="#5c0c0c" stroke="#360505" stroke-width="0.6" />
<circle cx="491.20" cy="119.71" r="1.85" fill="#5c0c0c" stroke="#360505" stroke-width="0.6" />
<circle cx="487.60" cy="119.97" r="1.85" fill="#5c0c0c" stroke="#360505" stroke-width="0.6" />
<circle cx="491.20" cy="122.56" r="1.85" fill="#5c0c0c" stroke="#360505" stroke-width="0.6" />
<circle cx="489.20" cy="124.42" r="1.85" fill="#5c0c0c" stroke="#360505" stroke-width="0.6" />
<circle cx="491.20" cy="124.84" r="1.85" fill="#5c0c0c" stroke="#360505" stroke-width="0.6" />
<circle cx="494.80" cy="124.97" r="1.85" fill="#5c0c0c" stroke="#360505" stroke-width="0.6" />
<circle cx="487.60" cy="125.81" r="1.85" fill="#5c0c0c" stroke="#360505" stroke-width="0.6" />
<circle cx="494.31" cy="125.81" r="1.85" fill="#5c0c0c" stroke="#360505" stroke-width="0.6" />
<circle cx="491.20" cy="127.73" r="1.85" fill="#5c0c0c" stroke="#360505" stroke-width="0.6" />
<circle cx="489.20" cy="129.09" r="1.85" fill="#5c0c0c" stroke="#360505" stroke-width="0.6" />
<circle cx="493.20" cy="129.74" r="1.85" fill="#5c0c0c" stroke="#360505" stroke-width="0.6" />
<circle cx="491.20" cy="130.27" r="1.85" fill="#5c0c0c" stroke="#360505" stroke-width="0.6" />
<circle cx="489.20" cy="131.17" r="1.85" fill="#5c0c0c" stroke="#360505" stroke-width="0.6" />
<circle cx="494.80" cy="131.35" r="1.85" fill="#5c0c0c" stroke="#360505" stroke-width="0.6" />
<circle cx="491.31" cy="131.96" r="1.85" fill="#5c0c0c" stroke="#360505" stroke-width="0.6" />
<circle cx="489.20" cy="133.40" r="1.85" fill="#5c0c0c" stroke="#360505" stroke-width="0.6" />
<circle cx="491.20" cy="137.31" r="1.85" fill="#5c0c0c" stroke="#360505" stroke-width="0.6" />
<circle cx="487.60" cy="137.61" r="1.85" fill="#5c0c0c" stroke="#360505" stroke-width="0.6" />
<circle cx="493.20" cy="138.35" r="1.85" fill="#5c0c0c" stroke="#360505" stroke-width="0.6" />
<circle cx="491.20" cy="146.50" r="1.85" fill="#5c0c0c" stroke="#360505" stroke-width="0.6" />
<circle cx="487.60" cy="146.50" r="1.85" fill="#5c0c0c" stroke="#360505" stroke-width="0.6" />
<circle cx="507.90" cy="69.12" r="1.85" fill="#5c0c0c" stroke="#360505" stroke-width="0.6" />
<circle cx="507.90" cy="110.96" r="1.85" fill="#5c0c0c" stroke="#360505" stroke-width="0.6" />
<circle cx="507.90" cy="113.88" r="1.85" fill="#5c0c0c" stroke="#360505" stroke-width="0.6" />
<circle cx="507.90" cy="116.25" r="1.85" fill="#5c0c0c" stroke="#360505" stroke-width="0.6" />
<circle cx="504.30" cy="116.60" r="1.85" fill="#5c0c0c" stroke="#360505" stroke-width="0.6" />
<circle cx="507.90" cy="123.13" r="1.85" fill="#5c0c0c" stroke="#360505" stroke-width="0.6" />
<circle cx="504.30" cy="123.17" r="1.85" fill="#5c0c0c" stroke="#360505" stroke-width="0.6" />
<circle cx="511.50" cy="123.18" r="1.85" fill="#5c0c0c" stroke="#360505" stroke-width="0.6" />
<circle cx="509.00" cy="123.70" r="1.85" fill="#5c0c0c" stroke="#360505" stroke-width="0.6" />
<circle cx="505.90" cy="124.96" r="1.85" fill="#5c0c0c" stroke="#360505" stroke-width="0.6" />
<circle cx="511.50" cy="125.41" r="1.85" fill="#5c0c0c" stroke="#360505" stroke-width="0.6" />
<circle cx="507.90" cy="127.25" r="1.85" fill="#5c0c0c" stroke="#360505" stroke-width="0.6" />
<circle cx="505.90" cy="127.91" r="1.85" fill="#5c0c0c" stroke="#360505" stroke-width="0.6" />
<circle cx="509.90" cy="129.20" r="1.85" fill="#5c0c0c" stroke="#360505" stroke-width="0.6" />
<circle cx="507.90" cy="130.39" r="1.85" fill="#5c0c0c" stroke="#360505" stroke-width="0.6" />
<circle cx="505.90" cy="131.39" r="1.85" fill="#5c0c0c" stroke="#360505" stroke-width="0.6" />
<circle cx="507.90" cy="135.00" r="1.85" fill="#5c0c0c" stroke="#360505" stroke-width="0.6" />
<circle cx="504.30" cy="135.11" r="1.85" fill="#5c0c0c" stroke="#360505" stroke-width="0.6" />
<circle cx="511.50" cy="135.35" r="1.85" fill="#5c0c0c" stroke="#360505" stroke-width="0.6" />
<circle cx="507.90" cy="137.73" r="1.85" fill="#5c0c0c" stroke="#360505" stroke-width="0.6" />
<circle cx="505.90" cy="139.38" r="1.85" fill="#5c0c0c" stroke="#360505" stroke-width="0.6" />
<circle cx="507.90" cy="141.66" r="1.85" fill="#5c0c0c" stroke="#360505" stroke-width="0.6" />
<circle cx="504.30" cy="141.98" r="1.85" fill="#5c0c0c" stroke="#360505" stroke-width="0.6" />
<circle cx="507.90" cy="143.78" r="1.85" fill="#5c0c0c" stroke="#360505" stroke-width="0.6" />
<circle cx="505.90" cy="145.02" r="1.85" fill="#5c0c0c" stroke="#360505" stroke-width="0.6" />
<line x1="424.80" y1="111.52" x2="424.80" y2="97.74" stroke="#111" stroke-width="1" />
<line x1="422.00" y1="111.52" x2="427.60" y2="111.52" stroke="#111" stroke-width="1" />
<line x1="422.00" y1="97.74" x2="427.60" y2="97.74" stroke="#111" stroke-width="1" />
<line x1="412.90" y1="48.50" x2="412.90" y2="157.60" stroke="#111" stroke-width="1.1" />
<line x1="412.40" y1="157.10" x2="517.50" y2="157.10" stroke="#111" stroke-width="1.1" />
<line x1="409.90" y1="157.10" x2="412.90" y2="157.10" stroke="#111" stroke-width="1" />
<text x="406.70" y="159.90" font-size="7.9" fill="#222" text-anchor="end" stroke="#222" stroke-width="0.22" >0.0</text>
<line x1="409.90" y1="130.60" x2="412.90" y2="130.60" stroke="#111" stroke-width="1" />
<text x="406.70" y="133.40" font-size="7.9" fill="#222" text-anchor="end" stroke="#222" stroke-width="0.22" >0.5</text>
<line x1="409.90" y1="104.10" x2="412.90" y2="104.10" stroke="#111" stroke-width="1" />
<text x="406.70" y="106.90" font-size="7.9" fill="#222" text-anchor="end" stroke="#222" stroke-width="0.22" >1.0</text>
<line x1="409.90" y1="77.60" x2="412.90" y2="77.60" stroke="#111" stroke-width="1" />
<text x="406.70" y="80.40" font-size="7.9" fill="#222" text-anchor="end" stroke="#222" stroke-width="0.22" >1.5</text>
<line x1="409.90" y1="51.10" x2="412.90" y2="51.10" stroke="#111" stroke-width="1" />
<text x="406.70" y="53.90" font-size="7.9" fill="#222" text-anchor="end" stroke="#222" stroke-width="0.22" >2.0</text>
<line x1="424.80" y1="157.10" x2="424.80" y2="159.70" stroke="#111" stroke-width="0.9" />
<line x1="441.30" y1="157.10" x2="441.30" y2="159.70" stroke="#111" stroke-width="0.9" />
<line x1="457.90" y1="157.10" x2="457.90" y2="159.70" stroke="#111" stroke-width="0.9" />
<line x1="474.50" y1="157.10" x2="474.50" y2="159.70" stroke="#111" stroke-width="0.9" />
<line x1="491.20" y1="157.10" x2="491.20" y2="159.70" stroke="#111" stroke-width="0.9" />
<line x1="507.90" y1="157.10" x2="507.90" y2="159.70" stroke="#111" stroke-width="0.9" />
<text x="424.80" y="170.30" font-size="8.2" fill="#222" text-anchor="middle" stroke="#222" stroke-width="0.22" >ctrl</text>
<text x="441.30" y="170.30" font-size="8.2" fill="#222" text-anchor="middle" stroke="#222" stroke-width="0.22" >inf</text>
<text x="457.70" y="170.30" font-size="8.2" fill="#222" text-anchor="middle" stroke="#222" stroke-width="0.22" >t<tspan font-size="6" dy="2.2">1</tspan></text>
<text x="474.30" y="170.30" font-size="8.2" fill="#222" text-anchor="middle" stroke="#222" stroke-width="0.22" >t<tspan font-size="6" dy="2.2">2</tspan></text>
<text x="491.00" y="170.30" font-size="8.2" fill="#222" text-anchor="middle" stroke="#222" stroke-width="0.22" >t<tspan font-size="6" dy="2.2">1</tspan></text>
<text x="507.70" y="170.30" font-size="8.2" fill="#222" text-anchor="middle" stroke="#222" stroke-width="0.22" >t<tspan font-size="6" dy="2.2">2</tspan></text>
<line x1="456.40" y1="175.40" x2="475.50" y2="175.40" stroke="#444" stroke-width="0.9" />
<line x1="489.70" y1="175.40" x2="508.90" y2="175.40" stroke="#444" stroke-width="0.9" />
<text x="465.90" y="185.70" font-size="8" fill="#222" text-anchor="middle" stroke="#222" stroke-width="0.22" >sepsis</text>
<text x="500.65" y="185.70" font-size="8.1" fill="#222" text-anchor="middle" stroke="#222" stroke-width="0.22" >COVID-19</text>
<text x="435.80" y="21.60" font-size="7.8" fill="#222" text-anchor="start" textLength="62.00" lengthAdjust="spacingAndGlyphs" stroke="#222" stroke-width="0.22" >mepacrine uptake</text>
<path d="M424.80,33.50 L424.80,31.20 L507.90,31.20 L507.90,33.50" stroke="#3a3a3a" stroke-width="1.15" fill="none" />
<circle cx="461.70" cy="28.20" r="0.95" fill="#333" stroke="none" stroke-width="1" />
<circle cx="464.80" cy="28.20" r="0.95" fill="#333" stroke="none" stroke-width="1" />
<circle cx="467.90" cy="28.20" r="0.95" fill="#333" stroke="none" stroke-width="1" />
<circle cx="471.00" cy="28.20" r="0.95" fill="#333" stroke="none" stroke-width="1" />
<path d="M424.80,40.40 L424.80,38.10 L491.20,38.10 L491.20,40.40" stroke="#3a3a3a" stroke-width="1.15" fill="none" />
<circle cx="453.35" cy="35.10" r="0.95" fill="#333" stroke="none" stroke-width="1" />
<circle cx="456.45" cy="35.10" r="0.95" fill="#333" stroke="none" stroke-width="1" />
<circle cx="459.55" cy="35.10" r="0.95" fill="#333" stroke="none" stroke-width="1" />
<circle cx="462.65" cy="35.10" r="0.95" fill="#333" stroke="none" stroke-width="1" />
<path d="M424.80,47.60 L424.80,45.30 L474.50,45.30 L474.50,47.60" stroke="#3a3a3a" stroke-width="1.15" fill="none" />
<circle cx="445.00" cy="42.30" r="0.95" fill="#333" stroke="none" stroke-width="1" />
<circle cx="448.10" cy="42.30" r="0.95" fill="#333" stroke="none" stroke-width="1" />
<circle cx="451.20" cy="42.30" r="0.95" fill="#333" stroke="none" stroke-width="1" />
<circle cx="454.30" cy="42.30" r="0.95" fill="#333" stroke="none" stroke-width="1" />
<path d="M424.80,54.60 L424.80,52.30 L457.90,52.30 L457.90,54.60" stroke="#3a3a3a" stroke-width="1.15" fill="none" />
<circle cx="436.70" cy="49.30" r="0.95" fill="#333" stroke="none" stroke-width="1" />
<circle cx="439.80" cy="49.30" r="0.95" fill="#333" stroke="none" stroke-width="1" />
<circle cx="442.90" cy="49.30" r="0.95" fill="#333" stroke="none" stroke-width="1" />
<circle cx="446.00" cy="49.30" r="0.95" fill="#333" stroke="none" stroke-width="1" />
<path d="M424.80,64.80 L424.80,62.50 L441.30,62.50 L441.30,64.80" stroke="#3a3a3a" stroke-width="1.15" fill="none" />
<circle cx="433.05" cy="59.50" r="0.95" fill="#333" stroke="none" stroke-width="1" />
<path d="M441.30,64.80 L441.30,62.50 L457.90,62.50 L457.90,64.80" stroke="#3a3a3a" stroke-width="1.15" fill="none" />
<text x="449.60" y="60.20" font-size="7.6" fill="#333" text-anchor="middle" stroke="#333" stroke-width="0.22" >ns</text>
<path d="M457.90,64.80 L457.90,62.50 L491.20,62.50 L491.20,64.80" stroke="#3a3a3a" stroke-width="1.15" fill="none" />
<text x="474.55" y="60.20" font-size="7.6" fill="#333" text-anchor="middle" stroke="#333" stroke-width="0.22" >ns</text>
<text x="391.00" y="102.00" font-size="8.2" fill="#1a1a1a" text-anchor="middle" textLength="99.00" lengthAdjust="spacingAndGlyphs" transform="rotate(-90 391.00 102.00)" stroke="#1a1a1a" stroke-width="0.35" >GeoMFI sample/ideal median ctrl</text>
<text x="0.60" y="206.40" font-size="10.8" fill="#000" text-anchor="start" font-weight="bold" stroke="#000" stroke-width="0.15" >D</text>
<rect x="43.95" y="316.73" width="11.30" height="52.47" fill="#ececec" stroke="#858585" stroke-width="0.9" />
<rect x="60.75" y="329.98" width="11.30" height="39.22" fill="#cfd0ee" stroke="#6a6c9c" stroke-width="0.9" />
<rect x="77.45" y="350.12" width="11.30" height="19.08" fill="#f9d6d6" stroke="#b48c8c" stroke-width="0.9" />
<rect x="94.05" y="351.71" width="11.30" height="17.49" fill="#f9d6d6" stroke="#b48c8c" stroke-width="0.9" />
<rect x="110.85" y="345.35" width="11.30" height="23.85" fill="#ecd6d6" stroke="#a08888" stroke-width="0.9" />
<rect x="127.35" y="350.12" width="11.30" height="19.08" fill="#ecd6d6" stroke="#a08888" stroke-width="0.9" />
<circle cx="49.60" cy="263.20" r="1.65" fill="none" stroke="#6e6e6e" stroke-width="1.0" />
<circle cx="49.60" cy="281.75" r="1.65" fill="none" stroke="#6e6e6e" stroke-width="1.0" />
<circle cx="49.60" cy="289.70" r="1.65" fill="none" stroke="#6e6e6e" stroke-width="1.0" />
<circle cx="49.60" cy="295.00" r="1.65" fill="none" stroke="#6e6e6e" stroke-width="1.0" />
<circle cx="49.60" cy="302.59" r="1.65" fill="none" stroke="#6e6e6e" stroke-width="1.0" />
<circle cx="49.60" cy="307.21" r="1.65" fill="none" stroke="#6e6e6e" stroke-width="1.0" />
<circle cx="46.00" cy="307.22" r="1.65" fill="none" stroke="#6e6e6e" stroke-width="1.0" />
<circle cx="51.60" cy="308.30" r="1.65" fill="none" stroke="#6e6e6e" stroke-width="1.0" />
<circle cx="47.76" cy="308.44" r="1.65" fill="none" stroke="#6e6e6e" stroke-width="1.0" />
<circle cx="49.60" cy="311.37" r="1.65" fill="none" stroke="#6e6e6e" stroke-width="1.0" />
<circle cx="46.00" cy="311.41" r="1.65" fill="none" stroke="#6e6e6e" stroke-width="1.0" />
<circle cx="53.20" cy="311.51" r="1.65" fill="none" stroke="#6e6e6e" stroke-width="1.0" />
<circle cx="49.60" cy="313.78" r="1.65" fill="none" stroke="#6e6e6e" stroke-width="1.0" />
<circle cx="46.00" cy="313.82" r="1.65" fill="none" stroke="#6e6e6e" stroke-width="1.0" />
<circle cx="51.60" cy="314.85" r="1.65" fill="none" stroke="#6e6e6e" stroke-width="1.0" />
<circle cx="49.60" cy="315.96" r="1.65" fill="none" stroke="#6e6e6e" stroke-width="1.0" />
<circle cx="47.60" cy="316.63" r="1.65" fill="none" stroke="#6e6e6e" stroke-width="1.0" />
<circle cx="51.60" cy="317.31" r="1.65" fill="none" stroke="#6e6e6e" stroke-width="1.0" />
<circle cx="51.79" cy="317.84" r="1.65" fill="none" stroke="#6e6e6e" stroke-width="1.0" />
<circle cx="49.60" cy="319.51" r="1.65" fill="none" stroke="#6e6e6e" stroke-width="1.0" />
<circle cx="46.00" cy="319.54" r="1.65" fill="none" stroke="#6e6e6e" stroke-width="1.0" />
<circle cx="51.60" cy="319.93" r="1.65" fill="none" stroke="#6e6e6e" stroke-width="1.0" />
<circle cx="48.44" cy="320.67" r="1.65" fill="none" stroke="#6e6e6e" stroke-width="1.0" />
<circle cx="46.00" cy="321.76" r="1.65" fill="none" stroke="#6e6e6e" stroke-width="1.0" />
<circle cx="53.20" cy="321.91" r="1.65" fill="none" stroke="#6e6e6e" stroke-width="1.0" />
<circle cx="49.60" cy="322.51" r="1.65" fill="none" stroke="#6e6e6e" stroke-width="1.0" />
<circle cx="47.60" cy="324.29" r="1.65" fill="none" stroke="#6e6e6e" stroke-width="1.0" />
<circle cx="49.60" cy="327.17" r="1.65" fill="none" stroke="#6e6e6e" stroke-width="1.0" />
<circle cx="49.60" cy="330.92" r="1.65" fill="none" stroke="#6e6e6e" stroke-width="1.0" />
<circle cx="47.60" cy="331.74" r="1.65" fill="none" stroke="#6e6e6e" stroke-width="1.0" />
<circle cx="51.60" cy="331.83" r="1.65" fill="none" stroke="#6e6e6e" stroke-width="1.0" />
<circle cx="49.02" cy="332.55" r="1.65" fill="none" stroke="#6e6e6e" stroke-width="1.0" />
<circle cx="50.69" cy="332.94" r="1.65" fill="none" stroke="#6e6e6e" stroke-width="1.0" />
<circle cx="46.00" cy="333.90" r="1.65" fill="none" stroke="#6e6e6e" stroke-width="1.0" />
<circle cx="49.60" cy="337.82" r="1.65" fill="none" stroke="#6e6e6e" stroke-width="1.0" />
<circle cx="49.60" cy="350.65" r="1.65" fill="none" stroke="#6e6e6e" stroke-width="1.0" />
<circle cx="66.40" cy="273.80" r="1.85" fill="#1c1c6e" stroke="#14145a" stroke-width="0.6" />
<circle cx="62.80" cy="273.80" r="1.85" fill="#1c1c6e" stroke="#14145a" stroke-width="0.6" />
<circle cx="66.40" cy="278.04" r="1.85" fill="#1c1c6e" stroke="#14145a" stroke-width="0.6" />
<circle cx="66.40" cy="306.50" r="1.85" fill="#1c1c6e" stroke="#14145a" stroke-width="0.6" />
<circle cx="64.40" cy="307.15" r="1.85" fill="#1c1c6e" stroke="#14145a" stroke-width="0.6" />
<circle cx="68.40" cy="308.20" r="1.85" fill="#1c1c6e" stroke="#14145a" stroke-width="0.6" />
<circle cx="66.40" cy="313.02" r="1.85" fill="#1c1c6e" stroke="#14145a" stroke-width="0.6" />
<circle cx="66.40" cy="315.95" r="1.85" fill="#1c1c6e" stroke="#14145a" stroke-width="0.6" />
<circle cx="66.40" cy="318.23" r="1.85" fill="#1c1c6e" stroke="#14145a" stroke-width="0.6" />
<circle cx="64.40" cy="319.51" r="1.85" fill="#1c1c6e" stroke="#14145a" stroke-width="0.6" />
<circle cx="68.40" cy="319.75" r="1.85" fill="#1c1c6e" stroke="#14145a" stroke-width="0.6" />
<circle cx="66.40" cy="321.92" r="1.85" fill="#1c1c6e" stroke="#14145a" stroke-width="0.6" />
<circle cx="62.80" cy="322.19" r="1.85" fill="#1c1c6e" stroke="#14145a" stroke-width="0.6" />
<circle cx="68.40" cy="322.32" r="1.85" fill="#1c1c6e" stroke="#14145a" stroke-width="0.6" />
<circle cx="66.40" cy="327.95" r="1.85" fill="#1c1c6e" stroke="#14145a" stroke-width="0.6" />
<circle cx="64.40" cy="329.63" r="1.85" fill="#1c1c6e" stroke="#14145a" stroke-width="0.6" />
<circle cx="66.40" cy="330.16" r="1.85" fill="#1c1c6e" stroke="#14145a" stroke-width="0.6" />
<circle cx="66.40" cy="333.19" r="1.85" fill="#1c1c6e" stroke="#14145a" stroke-width="0.6" />
<circle cx="64.40" cy="334.68" r="1.85" fill="#1c1c6e" stroke="#14145a" stroke-width="0.6" />
<circle cx="68.40" cy="334.73" r="1.85" fill="#1c1c6e" stroke="#14145a" stroke-width="0.6" />
<circle cx="66.40" cy="337.40" r="1.85" fill="#1c1c6e" stroke="#14145a" stroke-width="0.6" />
<circle cx="62.80" cy="337.59" r="1.85" fill="#1c1c6e" stroke="#14145a" stroke-width="0.6" />
<circle cx="68.40" cy="338.01" r="1.85" fill="#1c1c6e" stroke="#14145a" stroke-width="0.6" />
<circle cx="69.81" cy="338.05" r="1.85" fill="#1c1c6e" stroke="#14145a" stroke-width="0.6" />
<circle cx="66.40" cy="347.78" r="1.85" fill="#1c1c6e" stroke="#14145a" stroke-width="0.6" />
<circle cx="64.40" cy="349.25" r="1.85" fill="#1c1c6e" stroke="#14145a" stroke-width="0.6" />
<circle cx="66.40" cy="350.19" r="1.85" fill="#1c1c6e" stroke="#14145a" stroke-width="0.6" />
<circle cx="83.10" cy="288.64" r="1.85" fill="#cf2424" stroke="#8c1010" stroke-width="0.6" />
<circle cx="83.10" cy="297.65" r="1.85" fill="#cf2424" stroke="#8c1010" stroke-width="0.6" />
<circle cx="83.10" cy="326.37" r="1.85" fill="#cf2424" stroke="#8c1010" stroke-width="0.6" />
<circle cx="83.10" cy="329.38" r="1.85" fill="#cf2424" stroke="#8c1010" stroke-width="0.6" />
<circle cx="81.10" cy="330.25" r="1.85" fill="#cf2424" stroke="#8c1010" stroke-width="0.6" />
<circle cx="85.10" cy="331.36" r="1.85" fill="#cf2424" stroke="#8c1010" stroke-width="0.6" />
<circle cx="83.10" cy="334.79" r="1.85" fill="#cf2424" stroke="#8c1010" stroke-width="0.6" />
<circle cx="83.10" cy="337.15" r="1.85" fill="#cf2424" stroke="#8c1010" stroke-width="0.6" />
<circle cx="83.10" cy="339.73" r="1.85" fill="#cf2424" stroke="#8c1010" stroke-width="0.6" />
<circle cx="81.10" cy="340.17" r="1.85" fill="#cf2424" stroke="#8c1010" stroke-width="0.6" />
<circle cx="85.10" cy="340.70" r="1.85" fill="#cf2424" stroke="#8c1010" stroke-width="0.6" />
<circle cx="81.53" cy="341.30" r="1.85" fill="#cf2424" stroke="#8c1010" stroke-width="0.6" />
<circle cx="79.63" cy="341.32" r="1.85" fill="#cf2424" stroke="#8c1010" stroke-width="0.6" />
<circle cx="86.70" cy="342.41" r="1.85" fill="#cf2424" stroke="#8c1010" stroke-width="0.6" />
<circle cx="83.10" cy="344.05" r="1.85" fill="#cf2424" stroke="#8c1010" stroke-width="0.6" />
<circle cx="81.10" cy="345.74" r="1.85" fill="#cf2424" stroke="#8c1010" stroke-width="0.6" />
<circle cx="83.10" cy="347.44" r="1.85" fill="#cf2424" stroke="#8c1010" stroke-width="0.6" />
<circle cx="81.10" cy="348.21" r="1.85" fill="#cf2424" stroke="#8c1010" stroke-width="0.6" />
<circle cx="83.10" cy="349.68" r="1.85" fill="#cf2424" stroke="#8c1010" stroke-width="0.6" />
<circle cx="79.50" cy="350.02" r="1.85" fill="#cf2424" stroke="#8c1010" stroke-width="0.6" />
<circle cx="85.10" cy="350.06" r="1.85" fill="#cf2424" stroke="#8c1010" stroke-width="0.6" />
<circle cx="86.70" cy="350.64" r="1.85" fill="#cf2424" stroke="#8c1010" stroke-width="0.6" />
<circle cx="83.10" cy="352.49" r="1.85" fill="#cf2424" stroke="#8c1010" stroke-width="0.6" />
<circle cx="81.10" cy="353.91" r="1.85" fill="#cf2424" stroke="#8c1010" stroke-width="0.6" />
<circle cx="83.10" cy="355.19" r="1.85" fill="#cf2424" stroke="#8c1010" stroke-width="0.6" />
<circle cx="79.50" cy="355.55" r="1.85" fill="#cf2424" stroke="#8c1010" stroke-width="0.6" />
<circle cx="81.10" cy="356.99" r="1.85" fill="#cf2424" stroke="#8c1010" stroke-width="0.6" />
<circle cx="83.10" cy="358.19" r="1.85" fill="#cf2424" stroke="#8c1010" stroke-width="0.6" />
<circle cx="83.10" cy="360.43" r="1.85" fill="#cf2424" stroke="#8c1010" stroke-width="0.6" />
<circle cx="83.10" cy="362.67" r="1.85" fill="#cf2424" stroke="#8c1010" stroke-width="0.6" />
<circle cx="83.10" cy="366.15" r="1.85" fill="#cf2424" stroke="#8c1010" stroke-width="0.6" />
<circle cx="81.10" cy="368.14" r="1.85" fill="#cf2424" stroke="#8c1010" stroke-width="0.6" />
<circle cx="85.10" cy="368.14" r="1.85" fill="#cf2424" stroke="#8c1010" stroke-width="0.6" />
<circle cx="85.63" cy="368.14" r="1.85" fill="#cf2424" stroke="#8c1010" stroke-width="0.6" />
<circle cx="99.70" cy="337.38" r="1.85" fill="#cf2424" stroke="#8c1010" stroke-width="0.6" />
<circle cx="99.70" cy="340.30" r="1.85" fill="#cf2424" stroke="#8c1010" stroke-width="0.6" />
<circle cx="97.70" cy="341.77" r="1.85" fill="#cf2424" stroke="#8c1010" stroke-width="0.6" />
<circle cx="101.70" cy="342.02" r="1.85" fill="#cf2424" stroke="#8c1010" stroke-width="0.6" />
<circle cx="99.70" cy="343.38" r="1.85" fill="#cf2424" stroke="#8c1010" stroke-width="0.6" />
<circle cx="97.70" cy="344.01" r="1.85" fill="#cf2424" stroke="#8c1010" stroke-width="0.6" />
<circle cx="99.70" cy="345.61" r="1.85" fill="#cf2424" stroke="#8c1010" stroke-width="0.6" />
<circle cx="96.10" cy="345.65" r="1.85" fill="#cf2424" stroke="#8c1010" stroke-width="0.6" />
<circle cx="103.30" cy="345.83" r="1.85" fill="#cf2424" stroke="#8c1010" stroke-width="0.6" />
<circle cx="97.70" cy="347.55" r="1.85" fill="#cf2424" stroke="#8c1010" stroke-width="0.6" />
<circle cx="101.70" cy="347.88" r="1.85" fill="#cf2424" stroke="#8c1010" stroke-width="0.6" />
<circle cx="99.70" cy="352.52" r="1.85" fill="#cf2424" stroke="#8c1010" stroke-width="0.6" />
<circle cx="96.10" cy="352.65" r="1.85" fill="#cf2424" stroke="#8c1010" stroke-width="0.6" />
<circle cx="103.30" cy="352.88" r="1.85" fill="#cf2424" stroke="#8c1010" stroke-width="0.6" />
<circle cx="99.70" cy="354.77" r="1.85" fill="#cf2424" stroke="#8c1010" stroke-width="0.6" />
<circle cx="96.10" cy="355.04" r="1.85" fill="#cf2424" stroke="#8c1010" stroke-width="0.6" />
<circle cx="101.70" cy="355.43" r="1.85" fill="#cf2424" stroke="#8c1010" stroke-width="0.6" />
<circle cx="101.91" cy="355.66" r="1.85" fill="#cf2424" stroke="#8c1010" stroke-width="0.6" />
<circle cx="99.88" cy="356.05" r="1.85" fill="#cf2424" stroke="#8c1010" stroke-width="0.6" />
<circle cx="99.70" cy="362.61" r="1.85" fill="#cf2424" stroke="#8c1010" stroke-width="0.6" />
<circle cx="96.10" cy="362.69" r="1.85" fill="#cf2424" stroke="#8c1010" stroke-width="0.6" />
<circle cx="103.30" cy="362.85" r="1.85" fill="#cf2424" stroke="#8c1010" stroke-width="0.6" />
<circle cx="97.68" cy="363.30" r="1.85" fill="#cf2424" stroke="#8c1010" stroke-width="0.6" />
<circle cx="99.70" cy="366.55" r="1.85" fill="#cf2424" stroke="#8c1010" stroke-width="0.6" />
<circle cx="116.50" cy="297.65" r="1.85" fill="#5c0c0c" stroke="#360505" stroke-width="0.6" />
<circle cx="116.50" cy="316.20" r="1.85" fill="#5c0c0c" stroke="#360505" stroke-width="0.6" />
<circle cx="116.50" cy="330.46" r="1.85" fill="#5c0c0c" stroke="#360505" stroke-width="0.6" />
<circle cx="116.50" cy="332.53" r="1.85" fill="#5c0c0c" stroke="#360505" stroke-width="0.6" />
<circle cx="112.90" cy="332.58" r="1.85" fill="#5c0c0c" stroke="#360505" stroke-width="0.6" />
<circle cx="118.50" cy="332.92" r="1.85" fill="#5c0c0c" stroke="#360505" stroke-width="0.6" />
<circle cx="116.50" cy="334.78" r="1.85" fill="#5c0c0c" stroke="#360505" stroke-width="0.6" />
<circle cx="116.50" cy="336.98" r="1.85" fill="#5c0c0c" stroke="#360505" stroke-width="0.6" />
<circle cx="116.50" cy="342.91" r="1.85" fill="#5c0c0c" stroke="#360505" stroke-width="0.6" />
<circle cx="112.90" cy="343.07" r="1.85" fill="#5c0c0c" stroke="#360505" stroke-width="0.6" />
<circle cx="120.10" cy="343.21" r="1.85" fill="#5c0c0c" stroke="#360505" stroke-width="0.6" />
<circle cx="113.87" cy="343.61" r="1.85" fill="#5c0c0c" stroke="#360505" stroke-width="0.6" />
<circle cx="115.01" cy="343.85" r="1.85" fill="#5c0c0c" stroke="#360505" stroke-width="0.6" />
<circle cx="118.50" cy="344.67" r="1.85" fill="#5c0c0c" stroke="#360505" stroke-width="0.6" />
<circle cx="116.50" cy="345.53" r="1.85" fill="#5c0c0c" stroke="#360505" stroke-width="0.6" />
<circle cx="112.90" cy="345.74" r="1.85" fill="#5c0c0c" stroke="#360505" stroke-width="0.6" />
<circle cx="120.10" cy="345.95" r="1.85" fill="#5c0c0c" stroke="#360505" stroke-width="0.6" />
<circle cx="116.20" cy="346.05" r="1.85" fill="#5c0c0c" stroke="#360505" stroke-width="0.6" />
<circle cx="114.50" cy="347.81" r="1.85" fill="#5c0c0c" stroke="#360505" stroke-width="0.6" />
<circle cx="116.50" cy="349.49" r="1.85" fill="#5c0c0c" stroke="#360505" stroke-width="0.6" />
<circle cx="116.50" cy="351.70" r="1.85" fill="#5c0c0c" stroke="#360505" stroke-width="0.6" />
<circle cx="114.50" cy="352.16" r="1.85" fill="#5c0c0c" stroke="#360505" stroke-width="0.6" />
<circle cx="118.50" cy="353.27" r="1.85" fill="#5c0c0c" stroke="#360505" stroke-width="0.6" />
<circle cx="116.50" cy="354.49" r="1.85" fill="#5c0c0c" stroke="#360505" stroke-width="0.6" />
<circle cx="116.50" cy="357.46" r="1.85" fill="#5c0c0c" stroke="#360505" stroke-width="0.6" />
<circle cx="116.50" cy="363.86" r="1.85" fill="#5c0c0c" stroke="#360505" stroke-width="0.6" />
<circle cx="116.50" cy="366.55" r="1.85" fill="#5c0c0c" stroke="#360505" stroke-width="0.6" />
<circle cx="133.00" cy="328.87" r="1.85" fill="#5c0c0c" stroke="#360505" stroke-width="0.6" />
<circle cx="133.00" cy="335.54" r="1.85" fill="#5c0c0c" stroke="#360505" stroke-width="0.6" />
<circle cx="133.00" cy="338.68" r="1.85" fill="#5c0c0c" stroke="#360505" stroke-width="0.6" />
<circle cx="133.00" cy="340.71" r="1.85" fill="#5c0c0c" stroke="#360505" stroke-width="0.6" />
<circle cx="129.40" cy="340.95" r="1.85" fill="#5c0c0c" stroke="#360505" stroke-width="0.6" />
<circle cx="136.60" cy="340.99" r="1.85" fill="#5c0c0c" stroke="#360505" stroke-width="0.6" />
<circle cx="129.70" cy="341.54" r="1.85" fill="#5c0c0c" stroke="#360505" stroke-width="0.6" />
<circle cx="133.00" cy="343.24" r="1.85" fill="#5c0c0c" stroke="#360505" stroke-width="0.6" />
<circle cx="131.00" cy="343.89" r="1.85" fill="#5c0c0c" stroke="#360505" stroke-width="0.6" />
<circle cx="135.00" cy="344.04" r="1.85" fill="#5c0c0c" stroke="#360505" stroke-width="0.6" />
<circle cx="134.51" cy="344.52" r="1.85" fill="#5c0c0c" stroke="#360505" stroke-width="0.6" />
<circle cx="133.00" cy="347.26" r="1.85" fill="#5c0c0c" stroke="#360505" stroke-width="0.6" />
<circle cx="131.00" cy="347.74" r="1.85" fill="#5c0c0c" stroke="#360505" stroke-width="0.6" />
<circle cx="135.00" cy="348.55" r="1.85" fill="#5c0c0c" stroke="#360505" stroke-width="0.6" />
<circle cx="133.00" cy="349.40" r="1.85" fill="#5c0c0c" stroke="#360505" stroke-width="0.6" />
<circle cx="129.40" cy="349.50" r="1.85" fill="#5c0c0c" stroke="#360505" stroke-width="0.6" />
<circle cx="136.60" cy="349.81" r="1.85" fill="#5c0c0c" stroke="#360505" stroke-width="0.6" />
<circle cx="133.00" cy="351.75" r="1.85" fill="#5c0c0c" stroke="#360505" stroke-width="0.6" />
<circle cx="133.00" cy="354.65" r="1.85" fill="#5c0c0c" stroke="#360505" stroke-width="0.6" />
<circle cx="129.40" cy="354.78" r="1.85" fill="#5c0c0c" stroke="#360505" stroke-width="0.6" />
<circle cx="131.00" cy="356.10" r="1.85" fill="#5c0c0c" stroke="#360505" stroke-width="0.6" />
<circle cx="133.00" cy="357.27" r="1.85" fill="#5c0c0c" stroke="#360505" stroke-width="0.6" />
<circle cx="135.00" cy="358.06" r="1.85" fill="#5c0c0c" stroke="#360505" stroke-width="0.6" />
<circle cx="133.00" cy="360.83" r="1.85" fill="#5c0c0c" stroke="#360505" stroke-width="0.6" />
<circle cx="131.00" cy="362.30" r="1.85" fill="#5c0c0c" stroke="#360505" stroke-width="0.6" />
<circle cx="133.00" cy="366.55" r="1.85" fill="#5c0c0c" stroke="#360505" stroke-width="0.6" />
<line x1="49.60" y1="325.74" x2="49.60" y2="304.01" stroke="#111" stroke-width="1" />
<line x1="46.80" y1="325.74" x2="52.40" y2="325.74" stroke="#111" stroke-width="1" />
<line x1="46.80" y1="304.01" x2="52.40" y2="304.01" stroke="#111" stroke-width="1" />
<line x1="66.40" y1="336.34" x2="66.40" y2="317.79" stroke="#111" stroke-width="1" />
<line x1="63.60" y1="336.34" x2="69.20" y2="336.34" stroke="#111" stroke-width="1" />
<line x1="63.60" y1="317.79" x2="69.20" y2="317.79" stroke="#111" stroke-width="1" />
<line x1="38.50" y1="261.00" x2="38.50" y2="369.70" stroke="#111" stroke-width="1.1" />
<line x1="38.00" y1="369.20" x2="144.60" y2="369.20" stroke="#111" stroke-width="1.1" />
<line x1="35.50" y1="369.20" x2="38.50" y2="369.20" stroke="#111" stroke-width="1" />
<text x="32.30" y="372.00" font-size="7.9" fill="#222" text-anchor="end" stroke="#222" stroke-width="0.22" >0.0</text>
<line x1="35.50" y1="342.70" x2="38.50" y2="342.70" stroke="#111" stroke-width="1" />
<text x="32.30" y="345.50" font-size="7.9" fill="#222" text-anchor="end" stroke="#222" stroke-width="0.22" >0.5</text>
<line x1="35.50" y1="316.20" x2="38.50" y2="316.20" stroke="#111" stroke-width="1" />
<text x="32.30" y="319.00" font-size="7.9" fill="#222" text-anchor="end" stroke="#222" stroke-width="0.22" >1.0</text>
<line x1="35.50" y1="289.70" x2="38.50" y2="289.70" stroke="#111" stroke-width="1" />
<text x="32.30" y="292.50" font-size="7.9" fill="#222" text-anchor="end" stroke="#222" stroke-width="0.22" >1.5</text>
<line x1="35.50" y1="263.20" x2="38.50" y2="263.20" stroke="#111" stroke-width="1" />
<text x="32.30" y="266.00" font-size="7.9" fill="#222" text-anchor="end" stroke="#222" stroke-width="0.22" >2.0</text>
<line x1="49.60" y1="369.20" x2="49.60" y2="371.80" stroke="#111" stroke-width="0.9" />
<line x1="66.40" y1="369.20" x2="66.40" y2="371.80" stroke="#111" stroke-width="0.9" />
<line x1="83.10" y1="369.20" x2="83.10" y2="371.80" stroke="#111" stroke-width="0.9" />
<line x1="99.70" y1="369.20" x2="99.70" y2="371.80" stroke="#111" stroke-width="0.9" />
<line x1="116.50" y1="369.20" x2="116.50" y2="371.80" stroke="#111" stroke-width="0.9" />
<line x1="133.00" y1="369.20" x2="133.00" y2="371.80" stroke="#111" stroke-width="0.9" />
<text x="49.60" y="382.30" font-size="8.2" fill="#222" text-anchor="middle" stroke="#222" stroke-width="0.22" >ctrl</text>
<text x="66.40" y="382.30" font-size="8.2" fill="#222" text-anchor="middle" stroke="#222" stroke-width="0.22" >inf</text>
<text x="82.90" y="382.30" font-size="8.2" fill="#222" text-anchor="middle" stroke="#222" stroke-width="0.22" >t<tspan font-size="6" dy="2.2">1</tspan></text>
<text x="99.50" y="382.30" font-size="8.2" fill="#222" text-anchor="middle" stroke="#222" stroke-width="0.22" >t<tspan font-size="6" dy="2.2">2</tspan></text>
<text x="116.30" y="382.30" font-size="8.2" fill="#222" text-anchor="middle" stroke="#222" stroke-width="0.22" >t<tspan font-size="6" dy="2.2">1</tspan></text>
<text x="132.80" y="382.30" font-size="8.2" fill="#222" text-anchor="middle" stroke="#222" stroke-width="0.22" >t<tspan font-size="6" dy="2.2">2</tspan></text>
<line x1="81.60" y1="387.40" x2="100.70" y2="387.40" stroke="#444" stroke-width="0.9" />
<line x1="115.00" y1="387.40" x2="134.00" y2="387.40" stroke="#444" stroke-width="0.9" />
<text x="91.10" y="397.70" font-size="8" fill="#222" text-anchor="middle" stroke="#222" stroke-width="0.22" >sepsis</text>
<text x="125.85" y="397.70" font-size="8.1" fill="#222" text-anchor="middle" stroke="#222" stroke-width="0.22" >COVID-19</text>
<text x="61.20" y="217.70" font-size="7.8" fill="#222" text-anchor="start" textLength="61.70" lengthAdjust="spacingAndGlyphs" stroke="#222" stroke-width="0.22" >mepacrine uptake</text>
<path d="M49.60,231.60 L49.60,229.30 L133.00,229.30 L133.00,231.60" stroke="#3a3a3a" stroke-width="1.15" fill="none" />
<circle cx="86.65" cy="226.30" r="0.95" fill="#333" stroke="none" stroke-width="1" />
<circle cx="89.75" cy="226.30" r="0.95" fill="#333" stroke="none" stroke-width="1" />
<circle cx="92.85" cy="226.30" r="0.95" fill="#333" stroke="none" stroke-width="1" />
<circle cx="95.95" cy="226.30" r="0.95" fill="#333" stroke="none" stroke-width="1" />
<path d="M49.60,239.00 L49.60,236.70 L116.50,236.70 L116.50,239.00" stroke="#3a3a3a" stroke-width="1.15" fill="none" />
<circle cx="78.40" cy="233.70" r="0.95" fill="#333" stroke="none" stroke-width="1" />
<circle cx="81.50" cy="233.70" r="0.95" fill="#333" stroke="none" stroke-width="1" />
<circle cx="84.60" cy="233.70" r="0.95" fill="#333" stroke="none" stroke-width="1" />
<circle cx="87.70" cy="233.70" r="0.95" fill="#333" stroke="none" stroke-width="1" />
<path d="M49.60,246.00 L49.60,243.70 L99.70,243.70 L99.70,246.00" stroke="#3a3a3a" stroke-width="1.15" fill="none" />
<circle cx="70.00" cy="240.70" r="0.95" fill="#333" stroke="none" stroke-width="1" />
<circle cx="73.10" cy="240.70" r="0.95" fill="#333" stroke="none" stroke-width="1" />
<circle cx="76.20" cy="240.70" r="0.95" fill="#333" stroke="none" stroke-width="1" />
<circle cx="79.30" cy="240.70" r="0.95" fill="#333" stroke="none" stroke-width="1" />
<path d="M49.60,252.50 L49.60,250.20 L83.10,250.20 L83.10,252.50" stroke="#3a3a3a" stroke-width="1.15" fill="none" />
<circle cx="61.70" cy="247.20" r="0.95" fill="#333" stroke="none" stroke-width="1" />
<circle cx="64.80" cy="247.20" r="0.95" fill="#333" stroke="none" stroke-width="1" />
<circle cx="67.90" cy="247.20" r="0.95" fill="#333" stroke="none" stroke-width="1" />
<circle cx="71.00" cy="247.20" r="0.95" fill="#333" stroke="none" stroke-width="1" />
<path d="M49.60,262.70 L49.60,260.40 L66.40,260.40 L66.40,262.70" stroke="#3a3a3a" stroke-width="1.15" fill="none" />
<text x="58.00" y="258.10" font-size="7.6" fill="#333" text-anchor="middle" stroke="#333" stroke-width="0.22" >ns</text>
<path d="M66.40,262.70 L66.40,260.40 L83.10,260.40 L83.10,262.70" stroke="#3a3a3a" stroke-width="1.15" fill="none" />
<circle cx="70.10" cy="257.40" r="0.95" fill="#333" stroke="none" stroke-width="1" />
<circle cx="73.20" cy="257.40" r="0.95" fill="#333" stroke="none" stroke-width="1" />
<circle cx="76.30" cy="257.40" r="0.95" fill="#333" stroke="none" stroke-width="1" />
<circle cx="79.40" cy="257.40" r="0.95" fill="#333" stroke="none" stroke-width="1" />
<path d="M83.10,262.70 L83.10,260.40 L116.50,260.40 L116.50,262.70" stroke="#3a3a3a" stroke-width="1.15" fill="none" />
<text x="99.80" y="258.10" font-size="7.6" fill="#333" text-anchor="middle" stroke="#333" stroke-width="0.22" >ns</text>
<text x="16.20" y="314.00" font-size="8.2" fill="#1a1a1a" text-anchor="middle" textLength="99.00" lengthAdjust="spacingAndGlyphs" transform="rotate(-90 16.20 314.00)" stroke="#1a1a1a" stroke-width="0.35" >GeoMFI sample/ideal median ctrl</text>
<text x="210.20" y="206.80" font-size="10.8" fill="#000" text-anchor="start" font-weight="bold" stroke="#000" stroke-width="0.15" >E</text>
<rect x="253.25" y="308.56" width="11.30" height="60.83" fill="#ececec" stroke="#858585" stroke-width="0.9" />
<rect x="269.65" y="317.56" width="11.30" height="51.84" fill="#cfd0ee" stroke="#6a6c9c" stroke-width="0.9" />
<rect x="286.35" y="336.60" width="11.30" height="32.80" fill="#f9d6d6" stroke="#b48c8c" stroke-width="0.9" />
<rect x="303.25" y="337.66" width="11.30" height="31.74" fill="#f9d6d6" stroke="#b48c8c" stroke-width="0.9" />
<rect x="319.95" y="327.08" width="11.30" height="42.32" fill="#ecd6d6" stroke="#a08888" stroke-width="0.9" />
<rect x="336.25" y="339.78" width="11.30" height="29.62" fill="#ecd6d6" stroke="#a08888" stroke-width="0.9" />
<circle cx="258.90" cy="293.58" r="1.65" fill="none" stroke="#6e6e6e" stroke-width="1.0" />
<circle cx="258.90" cy="295.78" r="1.65" fill="none" stroke="#6e6e6e" stroke-width="1.0" />
<circle cx="256.90" cy="297.65" r="1.65" fill="none" stroke="#6e6e6e" stroke-width="1.0" />
<circle cx="258.90" cy="298.62" r="1.65" fill="none" stroke="#6e6e6e" stroke-width="1.0" />
<circle cx="256.90" cy="300.49" r="1.65" fill="none" stroke="#6e6e6e" stroke-width="1.0" />
<circle cx="260.90" cy="300.76" r="1.65" fill="none" stroke="#6e6e6e" stroke-width="1.0" />
<circle cx="258.90" cy="301.20" r="1.65" fill="none" stroke="#6e6e6e" stroke-width="1.0" />
<circle cx="255.33" cy="301.70" r="1.65" fill="none" stroke="#6e6e6e" stroke-width="1.0" />
<circle cx="262.50" cy="302.58" r="1.65" fill="none" stroke="#6e6e6e" stroke-width="1.0" />
<circle cx="262.46" cy="302.64" r="1.65" fill="none" stroke="#6e6e6e" stroke-width="1.0" />
<circle cx="257.33" cy="302.87" r="1.65" fill="none" stroke="#6e6e6e" stroke-width="1.0" />
<circle cx="255.30" cy="303.77" r="1.65" fill="none" stroke="#6e6e6e" stroke-width="1.0" />
<circle cx="258.90" cy="304.47" r="1.65" fill="none" stroke="#6e6e6e" stroke-width="1.0" />
<circle cx="256.90" cy="306.45" r="1.65" fill="none" stroke="#6e6e6e" stroke-width="1.0" />
<circle cx="260.90" cy="306.63" r="1.65" fill="none" stroke="#6e6e6e" stroke-width="1.0" />
<circle cx="259.23" cy="306.74" r="1.65" fill="none" stroke="#6e6e6e" stroke-width="1.0" />
<circle cx="256.04" cy="307.28" r="1.65" fill="none" stroke="#6e6e6e" stroke-width="1.0" />
<circle cx="260.90" cy="308.67" r="1.65" fill="none" stroke="#6e6e6e" stroke-width="1.0" />
<circle cx="258.90" cy="316.50" r="1.65" fill="none" stroke="#6e6e6e" stroke-width="1.0" />
<circle cx="258.90" cy="319.67" r="1.65" fill="none" stroke="#6e6e6e" stroke-width="1.0" />
<circle cx="258.90" cy="321.79" r="1.65" fill="none" stroke="#6e6e6e" stroke-width="1.0" />
<circle cx="258.90" cy="324.96" r="1.65" fill="none" stroke="#6e6e6e" stroke-width="1.0" />
<circle cx="258.90" cy="330.25" r="1.65" fill="none" stroke="#6e6e6e" stroke-width="1.0" />
<circle cx="258.90" cy="334.49" r="1.65" fill="none" stroke="#6e6e6e" stroke-width="1.0" />
<circle cx="258.90" cy="337.66" r="1.65" fill="none" stroke="#6e6e6e" stroke-width="1.0" />
<circle cx="258.90" cy="339.78" r="1.65" fill="none" stroke="#6e6e6e" stroke-width="1.0" />
<circle cx="258.90" cy="353.53" r="1.65" fill="none" stroke="#6e6e6e" stroke-width="1.0" />
<circle cx="275.30" cy="293.22" r="1.85" fill="#1c1c6e" stroke="#14145a" stroke-width="0.6" />
<circle cx="275.30" cy="297.73" r="1.85" fill="#1c1c6e" stroke="#14145a" stroke-width="0.6" />
<circle cx="275.30" cy="306.19" r="1.85" fill="#1c1c6e" stroke="#14145a" stroke-width="0.6" />
<circle cx="273.30" cy="308.00" r="1.85" fill="#1c1c6e" stroke="#14145a" stroke-width="0.6" />
<circle cx="275.30" cy="309.00" r="1.85" fill="#1c1c6e" stroke="#14145a" stroke-width="0.6" />
<circle cx="275.30" cy="311.38" r="1.85" fill="#1c1c6e" stroke="#14145a" stroke-width="0.6" />
<circle cx="273.30" cy="312.00" r="1.85" fill="#1c1c6e" stroke="#14145a" stroke-width="0.6" />
<circle cx="277.30" cy="312.29" r="1.85" fill="#1c1c6e" stroke="#14145a" stroke-width="0.6" />
<circle cx="271.83" cy="312.37" r="1.85" fill="#1c1c6e" stroke="#14145a" stroke-width="0.6" />
<circle cx="271.56" cy="313.29" r="1.85" fill="#1c1c6e" stroke="#14145a" stroke-width="0.6" />
<circle cx="275.30" cy="316.87" r="1.85" fill="#1c1c6e" stroke="#14145a" stroke-width="0.6" />
<circle cx="275.30" cy="320.80" r="1.85" fill="#1c1c6e" stroke="#14145a" stroke-width="0.6" />
<circle cx="273.30" cy="321.64" r="1.85" fill="#1c1c6e" stroke="#14145a" stroke-width="0.6" />
<circle cx="277.30" cy="322.71" r="1.85" fill="#1c1c6e" stroke="#14145a" stroke-width="0.6" />
<circle cx="271.70" cy="323.00" r="1.85" fill="#1c1c6e" stroke="#14145a" stroke-width="0.6" />
<circle cx="275.30" cy="323.86" r="1.85" fill="#1c1c6e" stroke="#14145a" stroke-width="0.6" />
<circle cx="275.30" cy="326.06" r="1.85" fill="#1c1c6e" stroke="#14145a" stroke-width="0.6" />
<circle cx="273.30" cy="327.03" r="1.85" fill="#1c1c6e" stroke="#14145a" stroke-width="0.6" />
<circle cx="275.30" cy="328.68" r="1.85" fill="#1c1c6e" stroke="#14145a" stroke-width="0.6" />
<circle cx="273.30" cy="329.99" r="1.85" fill="#1c1c6e" stroke="#14145a" stroke-width="0.6" />
<circle cx="275.30" cy="332.02" r="1.85" fill="#1c1c6e" stroke="#14145a" stroke-width="0.6" />
<circle cx="271.70" cy="332.12" r="1.85" fill="#1c1c6e" stroke="#14145a" stroke-width="0.6" />
<circle cx="275.30" cy="334.40" r="1.85" fill="#1c1c6e" stroke="#14145a" stroke-width="0.6" />
<circle cx="275.30" cy="338.61" r="1.85" fill="#1c1c6e" stroke="#14145a" stroke-width="0.6" />
<circle cx="275.30" cy="345.35" r="1.85" fill="#1c1c6e" stroke="#14145a" stroke-width="0.6" />
<circle cx="275.30" cy="348.34" r="1.85" fill="#1c1c6e" stroke="#14145a" stroke-width="0.6" />
<circle cx="292.00" cy="269.95" r="1.85" fill="#cf2424" stroke="#8c1010" stroke-width="0.6" />
<circle cx="292.00" cy="301.11" r="1.85" fill="#cf2424" stroke="#8c1010" stroke-width="0.6" />
<circle cx="292.00" cy="318.35" r="1.85" fill="#cf2424" stroke="#8c1010" stroke-width="0.6" />
<circle cx="290.00" cy="319.46" r="1.85" fill="#cf2424" stroke="#8c1010" stroke-width="0.6" />
<circle cx="292.00" cy="320.73" r="1.85" fill="#cf2424" stroke="#8c1010" stroke-width="0.6" />
<circle cx="292.00" cy="328.90" r="1.85" fill="#cf2424" stroke="#8c1010" stroke-width="0.6" />
<circle cx="290.00" cy="329.37" r="1.85" fill="#cf2424" stroke="#8c1010" stroke-width="0.6" />
<circle cx="294.00" cy="329.41" r="1.85" fill="#cf2424" stroke="#8c1010" stroke-width="0.6" />
<circle cx="292.76" cy="330.37" r="1.85" fill="#cf2424" stroke="#8c1010" stroke-width="0.6" />
<circle cx="288.40" cy="331.17" r="1.85" fill="#cf2424" stroke="#8c1010" stroke-width="0.6" />
<circle cx="295.60" cy="331.31" r="1.85" fill="#cf2424" stroke="#8c1010" stroke-width="0.6" />
<circle cx="292.00" cy="332.38" r="1.85" fill="#cf2424" stroke="#8c1010" stroke-width="0.6" />
<circle cx="292.00" cy="334.50" r="1.85" fill="#cf2424" stroke="#8c1010" stroke-width="0.6" />
<circle cx="288.40" cy="334.61" r="1.85" fill="#cf2424" stroke="#8c1010" stroke-width="0.6" />
<circle cx="292.00" cy="337.12" r="1.85" fill="#cf2424" stroke="#8c1010" stroke-width="0.6" />
<circle cx="290.00" cy="337.59" r="1.85" fill="#cf2424" stroke="#8c1010" stroke-width="0.6" />
<circle cx="294.00" cy="338.19" r="1.85" fill="#cf2424" stroke="#8c1010" stroke-width="0.6" />
<circle cx="292.46" cy="338.30" r="1.85" fill="#cf2424" stroke="#8c1010" stroke-width="0.6" />
<circle cx="288.40" cy="339.00" r="1.85" fill="#cf2424" stroke="#8c1010" stroke-width="0.6" />
<circle cx="295.60" cy="339.67" r="1.85" fill="#cf2424" stroke="#8c1010" stroke-width="0.6" />
<circle cx="294.40" cy="339.69" r="1.85" fill="#cf2424" stroke="#8c1010" stroke-width="0.6" />
<circle cx="292.00" cy="343.78" r="1.85" fill="#cf2424" stroke="#8c1010" stroke-width="0.6" />
<circle cx="290.00" cy="344.65" r="1.85" fill="#cf2424" stroke="#8c1010" stroke-width="0.6" />
<circle cx="294.00" cy="345.75" r="1.85" fill="#cf2424" stroke="#8c1010" stroke-width="0.6" />
<circle cx="292.00" cy="347.63" r="1.85" fill="#cf2424" stroke="#8c1010" stroke-width="0.6" />
<circle cx="290.00" cy="349.50" r="1.85" fill="#cf2424" stroke="#8c1010" stroke-width="0.6" />
<circle cx="292.00" cy="350.74" r="1.85" fill="#cf2424" stroke="#8c1010" stroke-width="0.6" />
<circle cx="290.00" cy="351.62" r="1.85" fill="#cf2424" stroke="#8c1010" stroke-width="0.6" />
<circle cx="292.00" cy="353.13" r="1.85" fill="#cf2424" stroke="#8c1010" stroke-width="0.6" />
<circle cx="290.00" cy="354.05" r="1.85" fill="#cf2424" stroke="#8c1010" stroke-width="0.6" />
<circle cx="292.00" cy="356.25" r="1.85" fill="#cf2424" stroke="#8c1010" stroke-width="0.6" />
<circle cx="288.40" cy="356.52" r="1.85" fill="#cf2424" stroke="#8c1010" stroke-width="0.6" />
<circle cx="292.00" cy="361.30" r="1.85" fill="#cf2424" stroke="#8c1010" stroke-width="0.6" />
<circle cx="308.90" cy="314.38" r="1.85" fill="#cf2424" stroke="#8c1010" stroke-width="0.6" />
<circle cx="305.30" cy="314.38" r="1.85" fill="#cf2424" stroke="#8c1010" stroke-width="0.6" />
<circle cx="308.90" cy="317.98" r="1.85" fill="#cf2424" stroke="#8c1010" stroke-width="0.6" />
<circle cx="305.30" cy="318.13" r="1.85" fill="#cf2424" stroke="#8c1010" stroke-width="0.6" />
<circle cx="310.90" cy="318.68" r="1.85" fill="#cf2424" stroke="#8c1010" stroke-width="0.6" />
<circle cx="311.57" cy="318.83" r="1.85" fill="#cf2424" stroke="#8c1010" stroke-width="0.6" />
<circle cx="308.90" cy="320.42" r="1.85" fill="#cf2424" stroke="#8c1010" stroke-width="0.6" />
<circle cx="308.90" cy="324.94" r="1.85" fill="#cf2424" stroke="#8c1010" stroke-width="0.6" />
<circle cx="305.30" cy="325.05" r="1.85" fill="#cf2424" stroke="#8c1010" stroke-width="0.6" />
<circle cx="310.90" cy="325.66" r="1.85" fill="#cf2424" stroke="#8c1010" stroke-width="0.6" />
<circle cx="308.90" cy="327.44" r="1.85" fill="#cf2424" stroke="#8c1010" stroke-width="0.6" />
<circle cx="308.90" cy="330.09" r="1.85" fill="#cf2424" stroke="#8c1010" stroke-width="0.6" />
<circle cx="305.30" cy="330.33" r="1.85" fill="#cf2424" stroke="#8c1010" stroke-width="0.6" />
<circle cx="308.90" cy="337.08" r="1.85" fill="#cf2424" stroke="#8c1010" stroke-width="0.6" />
<circle cx="306.90" cy="337.54" r="1.85" fill="#cf2424" stroke="#8c1010" stroke-width="0.6" />
<circle cx="308.90" cy="339.99" r="1.85" fill="#cf2424" stroke="#8c1010" stroke-width="0.6" />
<circle cx="305.30" cy="340.06" r="1.85" fill="#cf2424" stroke="#8c1010" stroke-width="0.6" />
<circle cx="308.90" cy="342.30" r="1.85" fill="#cf2424" stroke="#8c1010" stroke-width="0.6" />
<circle cx="308.90" cy="347.16" r="1.85" fill="#cf2424" stroke="#8c1010" stroke-width="0.6" />
<circle cx="308.90" cy="350.33" r="1.85" fill="#cf2424" stroke="#8c1010" stroke-width="0.6" />
<circle cx="308.90" cy="357.96" r="1.85" fill="#cf2424" stroke="#8c1010" stroke-width="0.6" />
<circle cx="308.90" cy="360.22" r="1.85" fill="#cf2424" stroke="#8c1010" stroke-width="0.6" />
<circle cx="305.30" cy="360.34" r="1.85" fill="#cf2424" stroke="#8c1010" stroke-width="0.6" />
<circle cx="308.90" cy="364.11" r="1.85" fill="#cf2424" stroke="#8c1010" stroke-width="0.6" />
<circle cx="325.60" cy="304.86" r="1.85" fill="#5c0c0c" stroke="#360505" stroke-width="0.6" />
<circle cx="325.60" cy="307.23" r="1.85" fill="#5c0c0c" stroke="#360505" stroke-width="0.6" />
<circle cx="325.60" cy="314.32" r="1.85" fill="#5c0c0c" stroke="#360505" stroke-width="0.6" />
<circle cx="322.00" cy="314.44" r="1.85" fill="#5c0c0c" stroke="#360505" stroke-width="0.6" />
<circle cx="327.60" cy="315.65" r="1.85" fill="#5c0c0c" stroke="#360505" stroke-width="0.6" />
<circle cx="325.60" cy="317.45" r="1.85" fill="#5c0c0c" stroke="#360505" stroke-width="0.6" />
<circle cx="325.60" cy="320.24" r="1.85" fill="#5c0c0c" stroke="#360505" stroke-width="0.6" />
<circle cx="323.60" cy="320.78" r="1.85" fill="#5c0c0c" stroke="#360505" stroke-width="0.6" />
<circle cx="327.60" cy="321.05" r="1.85" fill="#5c0c0c" stroke="#360505" stroke-width="0.6" />
<circle cx="325.60" cy="323.88" r="1.85" fill="#5c0c0c" stroke="#360505" stroke-width="0.6" />
<circle cx="322.00" cy="323.91" r="1.85" fill="#5c0c0c" stroke="#360505" stroke-width="0.6" />
<circle cx="323.60" cy="325.26" r="1.85" fill="#5c0c0c" stroke="#360505" stroke-width="0.6" />
<circle cx="325.60" cy="329.62" r="1.85" fill="#5c0c0c" stroke="#360505" stroke-width="0.6" />
<circle cx="325.60" cy="336.94" r="1.85" fill="#5c0c0c" stroke="#360505" stroke-width="0.6" />
<circle cx="322.00" cy="337.14" r="1.85" fill="#5c0c0c" stroke="#360505" stroke-width="0.6" />
<circle cx="325.60" cy="343.31" r="1.85" fill="#5c0c0c" stroke="#360505" stroke-width="0.6" />
<circle cx="322.00" cy="343.53" r="1.85" fill="#5c0c0c" stroke="#360505" stroke-width="0.6" />
<circle cx="325.60" cy="345.48" r="1.85" fill="#5c0c0c" stroke="#360505" stroke-width="0.6" />
<circle cx="325.60" cy="347.71" r="1.85" fill="#5c0c0c" stroke="#360505" stroke-width="0.6" />
<circle cx="325.60" cy="351.71" r="1.85" fill="#5c0c0c" stroke="#360505" stroke-width="0.6" />
<circle cx="341.90" cy="317.47" r="1.85" fill="#5c0c0c" stroke="#360505" stroke-width="0.6" />
<circle cx="341.90" cy="320.35" r="1.85" fill="#5c0c0c" stroke="#360505" stroke-width="0.6" />
<circle cx="339.90" cy="321.52" r="1.85" fill="#5c0c0c" stroke="#360505" stroke-width="0.6" />
<circle cx="343.90" cy="321.87" r="1.85" fill="#5c0c0c" stroke="#360505" stroke-width="0.6" />
<circle cx="341.90" cy="325.72" r="1.85" fill="#5c0c0c" stroke="#360505" stroke-width="0.6" />
<circle cx="339.90" cy="326.30" r="1.85" fill="#5c0c0c" stroke="#360505" stroke-width="0.6" />
<circle cx="343.90" cy="326.30" r="1.85" fill="#5c0c0c" stroke="#360505" stroke-width="0.6" />
<circle cx="341.32" cy="327.02" r="1.85" fill="#5c0c0c" stroke="#360505" stroke-width="0.6" />
<circle cx="341.90" cy="330.76" r="1.85" fill="#5c0c0c" stroke="#360505" stroke-width="0.6" />
<circle cx="339.90" cy="331.47" r="1.85" fill="#5c0c0c" stroke="#360505" stroke-width="0.6" />
<circle cx="341.90" cy="334.59" r="1.85" fill="#5c0c0c" stroke="#360505" stroke-width="0.6" />
<circle cx="339.90" cy="336.50" r="1.85" fill="#5c0c0c" stroke="#360505" stroke-width="0.6" />
<circle cx="341.90" cy="339.41" r="1.85" fill="#5c0c0c" stroke="#360505" stroke-width="0.6" />
<circle cx="339.90" cy="339.93" r="1.85" fill="#5c0c0c" stroke="#360505" stroke-width="0.6" />
<circle cx="343.90" cy="340.36" r="1.85" fill="#5c0c0c" stroke="#360505" stroke-width="0.6" />
<circle cx="344.54" cy="340.95" r="1.85" fill="#5c0c0c" stroke="#360505" stroke-width="0.6" />
<circle cx="341.90" cy="343.49" r="1.85" fill="#5c0c0c" stroke="#360505" stroke-width="0.6" />
<circle cx="338.30" cy="343.78" r="1.85" fill="#5c0c0c" stroke="#360505" stroke-width="0.6" />
<circle cx="341.90" cy="346.38" r="1.85" fill="#5c0c0c" stroke="#360505" stroke-width="0.6" />
<circle cx="341.90" cy="349.03" r="1.85" fill="#5c0c0c" stroke="#360505" stroke-width="0.6" />
<circle cx="341.90" cy="354.63" r="1.85" fill="#5c0c0c" stroke="#360505" stroke-width="0.6" />
<circle cx="341.90" cy="356.75" r="1.85" fill="#5c0c0c" stroke="#360505" stroke-width="0.6" />
<circle cx="341.90" cy="359.83" r="1.85" fill="#5c0c0c" stroke="#360505" stroke-width="0.6" />
<circle cx="341.90" cy="362.25" r="1.85" fill="#5c0c0c" stroke="#360505" stroke-width="0.6" />
<circle cx="339.90" cy="364.11" r="1.85" fill="#5c0c0c" stroke="#360505" stroke-width="0.6" />
<circle cx="343.90" cy="364.11" r="1.85" fill="#5c0c0c" stroke="#360505" stroke-width="0.6" />
<line x1="258.90" y1="318.62" x2="258.90" y2="305.92" stroke="#111" stroke-width="1" />
<line x1="256.10" y1="318.62" x2="261.70" y2="318.62" stroke="#111" stroke-width="1" />
<line x1="256.10" y1="305.92" x2="261.70" y2="305.92" stroke="#111" stroke-width="1" />
<line x1="247.60" y1="260.60" x2="247.60" y2="369.90" stroke="#111" stroke-width="1.1" />
<line x1="247.10" y1="369.40" x2="353.50" y2="369.40" stroke="#111" stroke-width="1.1" />
<line x1="244.60" y1="369.40" x2="247.60" y2="369.40" stroke="#111" stroke-width="1" />
<text x="241.40" y="372.20" font-size="7.9" fill="#222" text-anchor="end" stroke="#222" stroke-width="0.22" >0.0</text>
<line x1="244.60" y1="316.50" x2="247.60" y2="316.50" stroke="#111" stroke-width="1" />
<text x="241.40" y="319.30" font-size="7.9" fill="#222" text-anchor="end" stroke="#222" stroke-width="0.22" >0.5</text>
<line x1="244.60" y1="263.60" x2="247.60" y2="263.60" stroke="#111" stroke-width="1" />
<text x="241.40" y="266.40" font-size="7.9" fill="#222" text-anchor="end" stroke="#222" stroke-width="0.22" >1.0</text>
<line x1="258.90" y1="369.40" x2="258.90" y2="372.00" stroke="#111" stroke-width="0.9" />
<line x1="275.30" y1="369.40" x2="275.30" y2="372.00" stroke="#111" stroke-width="0.9" />
<line x1="292.00" y1="369.40" x2="292.00" y2="372.00" stroke="#111" stroke-width="0.9" />
<line x1="308.90" y1="369.40" x2="308.90" y2="372.00" stroke="#111" stroke-width="0.9" />
<line x1="325.60" y1="369.40" x2="325.60" y2="372.00" stroke="#111" stroke-width="0.9" />
<line x1="341.90" y1="369.40" x2="341.90" y2="372.00" stroke="#111" stroke-width="0.9" />
<text x="258.90" y="382.60" font-size="8.2" fill="#222" text-anchor="middle" stroke="#222" stroke-width="0.22" >ctrl</text>
<text x="275.30" y="382.60" font-size="8.2" fill="#222" text-anchor="middle" stroke="#222" stroke-width="0.22" >inf</text>
<text x="291.80" y="382.60" font-size="8.2" fill="#222" text-anchor="middle" stroke="#222" stroke-width="0.22" >t<tspan font-size="6" dy="2.2">1</tspan></text>
<text x="308.70" y="382.60" font-size="8.2" fill="#222" text-anchor="middle" stroke="#222" stroke-width="0.22" >t<tspan font-size="6" dy="2.2">2</tspan></text>
<text x="325.40" y="382.60" font-size="8.2" fill="#222" text-anchor="middle" stroke="#222" stroke-width="0.22" >t<tspan font-size="6" dy="2.2">1</tspan></text>
<text x="341.70" y="382.60" font-size="8.2" fill="#222" text-anchor="middle" stroke="#222" stroke-width="0.22" >t<tspan font-size="6" dy="2.2">2</tspan></text>
<line x1="290.50" y1="387.70" x2="309.90" y2="387.70" stroke="#444" stroke-width="0.9" />
<line x1="324.10" y1="387.70" x2="342.90" y2="387.70" stroke="#444" stroke-width="0.9" />
<text x="300.15" y="398.00" font-size="8" fill="#222" text-anchor="middle" stroke="#222" stroke-width="0.22" >sepsis</text>
<text x="334.85" y="398.00" font-size="8.1" fill="#222" text-anchor="middle" stroke="#222" stroke-width="0.22" >COVID-19</text>
<text x="269.00" y="216.60" font-size="7.8" fill="#222" text-anchor="start" textLength="75.80" lengthAdjust="spacingAndGlyphs" stroke="#222" stroke-width="0.22" >rel. mepacrine release</text>
<path d="M258.90,230.10 L258.90,227.80 L341.90,227.80 L341.90,230.10" stroke="#3a3a3a" stroke-width="1.15" fill="none" />
<circle cx="295.75" cy="224.80" r="0.95" fill="#333" stroke="none" stroke-width="1" />
<circle cx="298.85" cy="224.80" r="0.95" fill="#333" stroke="none" stroke-width="1" />
<circle cx="301.95" cy="224.80" r="0.95" fill="#333" stroke="none" stroke-width="1" />
<circle cx="305.05" cy="224.80" r="0.95" fill="#333" stroke="none" stroke-width="1" />
<path d="M258.90,237.60 L258.90,235.30 L325.60,235.30 L325.60,237.60" stroke="#3a3a3a" stroke-width="1.15" fill="none" />
<circle cx="289.15" cy="232.30" r="0.95" fill="#333" stroke="none" stroke-width="1" />
<circle cx="292.25" cy="232.30" r="0.95" fill="#333" stroke="none" stroke-width="1" />
<circle cx="295.35" cy="232.30" r="0.95" fill="#333" stroke="none" stroke-width="1" />
<path d="M258.90,244.70 L258.90,242.40 L308.90,242.40 L308.90,244.70" stroke="#3a3a3a" stroke-width="1.15" fill="none" />
<circle cx="279.25" cy="239.40" r="0.95" fill="#333" stroke="none" stroke-width="1" />
<circle cx="282.35" cy="239.40" r="0.95" fill="#333" stroke="none" stroke-width="1" />
<circle cx="285.45" cy="239.40" r="0.95" fill="#333" stroke="none" stroke-width="1" />
<circle cx="288.55" cy="239.40" r="0.95" fill="#333" stroke="none" stroke-width="1" />
<path d="M258.90,251.70 L258.90,249.40 L292.00,249.40 L292.00,251.70" stroke="#3a3a3a" stroke-width="1.15" fill="none" />
<circle cx="270.80" cy="246.40" r="0.95" fill="#333" stroke="none" stroke-width="1" />
<circle cx="273.90" cy="246.40" r="0.95" fill="#333" stroke="none" stroke-width="1" />
<circle cx="277.00" cy="246.40" r="0.95" fill="#333" stroke="none" stroke-width="1" />
<circle cx="280.10" cy="246.40" r="0.95" fill="#333" stroke="none" stroke-width="1" />
<path d="M258.90,261.90 L258.90,259.60 L275.30,259.60 L275.30,261.90" stroke="#3a3a3a" stroke-width="1.15" fill="none" />
<text x="267.10" y="257.30" font-size="7.6" fill="#333" text-anchor="middle" stroke="#333" stroke-width="0.22" >ns</text>
<path d="M275.30,261.90 L275.30,259.60 L292.00,259.60 L292.00,261.90" stroke="#3a3a3a" stroke-width="1.15" fill="none" />
<circle cx="280.55" cy="256.60" r="0.95" fill="#333" stroke="none" stroke-width="1" />
<circle cx="283.65" cy="256.60" r="0.95" fill="#333" stroke="none" stroke-width="1" />
<circle cx="286.75" cy="256.60" r="0.95" fill="#333" stroke="none" stroke-width="1" />
<path d="M292.00,261.90 L292.00,259.60 L325.60,259.60 L325.60,261.90" stroke="#3a3a3a" stroke-width="1.15" fill="none" />
<text x="308.80" y="257.30" font-size="7.6" fill="#333" text-anchor="middle" stroke="#333" stroke-width="0.22" >ns</text>
<text x="226.00" y="314.00" font-size="8.2" fill="#1a1a1a" text-anchor="middle" textLength="99.00" lengthAdjust="spacingAndGlyphs" transform="rotate(-90 226.00 314.00)" stroke="#1a1a1a" stroke-width="0.35" >GeoMFI sample/ideal median ctrl</text>
<text x="375.70" y="237.70" font-size="10.8" fill="#000" text-anchor="start" font-weight="bold" stroke="#000" stroke-width="0.15" >F</text>
<line x1="401.00" y1="262.10" x2="401.00" y2="369.00" stroke="#111" stroke-width="1.2" />
<line x1="400.40" y1="368.50" x2="516.00" y2="368.50" stroke="#111" stroke-width="1.2" />
<path d="M402.90,362.30 L420.80,362.30 L421.10,340.00 L421.60,300.00 L422.30,272.00 L423.10,263.00 L424.00,260.20 L425.00,260.81 L426.00,261.40 L427.00,262.00 L428.00,262.59 L429.00,263.17 L430.00,263.74 L431.00,264.31 L432.00,264.88 L433.00,265.44 L434.00,265.99 L435.00,266.54 L436.00,267.08 L437.00,267.62 L438.00,268.15 L439.00,268.67 L440.00,269.19 L441.00,269.71 L442.00,270.22 L443.00,270.73 L444.00,271.23 L445.00,271.72 L446.00,272.21 L447.00,272.70 L448.00,273.18 L449.00,273.66 L450.00,274.13 L451.00,274.59 L452.00,275.06 L453.00,275.51 L454.00,275.97 L455.00,276.42 L456.00,276.86 L457.00,277.30 L458.00,277.73 L459.00,278.17 L460.00,278.59 L461.00,279.01 L462.00,279.43 L463.00,279.85 L464.00,280.26 L465.00,280.66 L466.00,281.06 L467.00,281.46 L468.00,281.85 L469.00,282.24 L470.00,282.63 L471.00,283.01 L472.00,283.39 L473.00,283.77 L474.00,284.14 L475.00,284.50 L476.00,284.87 L477.00,285.23 L478.00,285.58 L479.00,285.94 L480.00,286.29 L481.00,286.63 L482.00,286.97 L483.00,287.31 L484.00,287.65 L485.00,287.98 L486.00,288.31 L487.00,288.63 L488.00,288.96 L489.00,289.28 L490.00,289.59 L491.00,289.90 L492.00,290.21 L493.00,290.52 L494.00,290.82 L495.00,291.13 L496.00,291.42 L497.00,291.72 L498.00,292.01 L499.00,292.30 L500.00,292.58 L501.00,292.87 L502.00,293.15 L503.00,293.42 L504.00,293.70 L505.00,293.97 L506.00,294.24 L507.00,294.51 L508.00,294.77 L509.00,295.03 L510.00,295.29 L511.00,295.55" stroke="#a4a4a4" stroke-width="0.95" fill="none" />
<path d="M402.90,362.30 L424.60,362.30 L425.60,361.00 L426.80,350.00 L428.20,338.00 L430.00,332.50 L432.50,330.30 L433.50,330.13 L434.50,330.55 L435.50,331.14 L436.50,331.74 L437.50,331.50 L438.50,331.77 L439.50,332.18 L440.50,333.00 L441.50,332.68 L442.50,333.55 L443.50,333.75 L444.50,333.50 L445.50,334.17 L446.50,334.35 L447.50,334.57 L448.50,335.42 L449.50,334.77 L450.50,334.95 L451.50,336.12 L452.50,335.82 L453.50,335.86 L454.50,336.23 L455.50,336.50 L456.50,337.32 L457.50,336.80 L458.50,337.03 L459.50,337.62 L460.50,337.80 L461.50,338.42 L462.50,338.52 L463.50,338.25 L464.50,338.30 L465.50,339.14 L466.50,339.49 L467.50,338.73 L468.50,339.63 L469.50,339.95 L470.50,339.93 L471.50,339.68 L472.50,340.44 L473.50,340.56 L474.50,340.20 L475.50,340.82 L476.50,340.57 L477.50,340.57 L478.50,341.03 L479.50,341.19 L480.50,341.42 L481.50,341.83 L482.50,342.18 L483.50,342.46 L484.50,342.63 L485.50,342.80 L486.50,342.75 L487.50,342.41 L488.50,342.43 L489.50,343.02 L490.50,343.09 L491.50,343.35 L492.50,342.91 L493.50,343.15 L494.50,344.01 L495.50,343.82 L496.50,344.05 L497.50,343.58 L498.50,344.01 L499.50,344.64 L500.50,344.50 L501.50,344.97 L502.50,344.29 L503.50,344.67 L504.50,345.13 L505.50,344.89 L506.50,345.35 L507.50,345.23 L508.50,344.90 L509.50,344.99 L510.50,345.98" stroke="#d8262a" stroke-width="1.35" fill="none" />
<text x="492.50" y="274.80" font-size="8" fill="#333" text-anchor="start" textLength="10.80" lengthAdjust="spacingAndGlyphs" stroke="#333" stroke-width="0.22" >ctrl</text>
<text x="489.90" y="332.10" font-size="8" fill="#333" text-anchor="start" textLength="22.00" lengthAdjust="spacingAndGlyphs" stroke="#333" stroke-width="0.22" >sepsis</text>
<text x="446.80" y="382.50" font-size="8.8" fill="#1a1a1a" text-anchor="start" textLength="24.70" lengthAdjust="spacingAndGlyphs" stroke="#1a1a1a" stroke-width="0.35" >Time [s]</text>
<text x="392.90" y="310.50" font-size="8.0" fill="#1a1a1a" text-anchor="middle" textLength="57.50" lengthAdjust="spacingAndGlyphs" transform="rotate(-90 392.90 310.50)" stroke="#1a1a1a" stroke-width="0.32" >ATP release [nmol]</text>
<text x="0.40" y="423.10" font-size="10.8" fill="#000" text-anchor="start" font-weight="bold" stroke="#000" stroke-width="0.15" >G</text>
<text x="75.60" y="440.40" font-size="9.4" fill="#222" text-anchor="start" textLength="32.20" lengthAdjust="spacingAndGlyphs" stroke="#222" stroke-width="0.22" >TRAP-6</text>
<rect x="49.00" y="481.74" width="21.20" height="72.86" fill="#ececec" stroke="#858585" stroke-width="0.9" />
<rect x="80.90" y="519.75" width="20.60" height="34.85" fill="#f9d6d6" stroke="#b48c8c" stroke-width="0.9" />
<rect x="112.15" y="532.29" width="21.70" height="22.31" fill="#ecd6d6" stroke="#a08888" stroke-width="0.9" />
<circle cx="59.60" cy="460.62" r="1.45" fill="#f2f2f2" stroke="#6a6a6a" stroke-width="0.8" />
<circle cx="59.60" cy="470.65" r="1.45" fill="#f2f2f2" stroke="#6a6a6a" stroke-width="0.8" />
<circle cx="59.60" cy="476.19" r="1.45" fill="#f2f2f2" stroke="#6a6a6a" stroke-width="0.8" />
<circle cx="59.60" cy="483.58" r="1.45" fill="#f2f2f2" stroke="#6a6a6a" stroke-width="0.8" />
<circle cx="59.60" cy="491.77" r="1.45" fill="#f2f2f2" stroke="#6a6a6a" stroke-width="0.8" />
<circle cx="59.60" cy="506.29" r="1.45" fill="#f2f2f2" stroke="#6a6a6a" stroke-width="0.8" />
<circle cx="91.20" cy="478.83" r="1.80" fill="#b01e1e" stroke="#7a1010" stroke-width="0.6" />
<circle cx="91.20" cy="488.07" r="1.80" fill="#b01e1e" stroke="#7a1010" stroke-width="0.6" />
<circle cx="91.20" cy="508.40" r="1.80" fill="#4a0c0c" stroke="#2a0505" stroke-width="0.6" />
<circle cx="87.80" cy="526.88" r="1.80" fill="#b01e1e" stroke="#7a1010" stroke-width="0.6" />
<circle cx="94.30" cy="528.99" r="1.80" fill="#b01e1e" stroke="#7a1010" stroke-width="0.6" />
<circle cx="91.20" cy="532.42" r="1.80" fill="#4a0c0c" stroke="#2a0505" stroke-width="0.6" />
<circle cx="91.20" cy="549.85" r="1.80" fill="#b01e1e" stroke="#7a1010" stroke-width="0.6" />
<circle cx="123.00" cy="510.25" r="1.80" fill="#5a0c0c" stroke="#300606" stroke-width="0.6" />
<circle cx="123.00" cy="526.35" r="1.80" fill="#1a0505" stroke="#000" stroke-width="0.6" />
<circle cx="123.00" cy="533.74" r="1.80" fill="#1a0505" stroke="#000" stroke-width="0.6" />
<circle cx="119.30" cy="537.70" r="1.80" fill="#5a0c0c" stroke="#300606" stroke-width="0.6" />
<circle cx="126.30" cy="539.29" r="1.80" fill="#5a0c0c" stroke="#300606" stroke-width="0.6" />
<circle cx="123.00" cy="541.40" r="1.80" fill="#5a0c0c" stroke="#300606" stroke-width="0.6" />
<line x1="59.60" y1="497.31" x2="59.60" y2="464.58" stroke="#1a1a1a" stroke-width="1.1" />
<line x1="54.30" y1="497.31" x2="64.90" y2="497.31" stroke="#1a1a1a" stroke-width="1.1" />
<line x1="54.30" y1="464.58" x2="64.90" y2="464.58" stroke="#1a1a1a" stroke-width="1.1" />
<line x1="91.20" y1="545.10" x2="91.20" y2="493.88" stroke="#1a1a1a" stroke-width="1.1" />
<line x1="85.90" y1="545.10" x2="96.50" y2="545.10" stroke="#1a1a1a" stroke-width="1.1" />
<line x1="85.90" y1="493.88" x2="96.50" y2="493.88" stroke="#1a1a1a" stroke-width="1.1" />
<line x1="123.00" y1="543.25" x2="123.00" y2="520.28" stroke="#1a1a1a" stroke-width="1.1" />
<line x1="117.70" y1="543.25" x2="128.30" y2="543.25" stroke="#1a1a1a" stroke-width="1.1" />
<line x1="117.70" y1="520.28" x2="128.30" y2="520.28" stroke="#1a1a1a" stroke-width="1.1" />
<line x1="38.50" y1="446.20" x2="38.50" y2="555.10" stroke="#111" stroke-width="1.1" />
<line x1="38.00" y1="554.60" x2="140.00" y2="554.60" stroke="#111" stroke-width="1.1" />
<line x1="35.50" y1="554.60" x2="38.50" y2="554.60" stroke="#111" stroke-width="1" />
<text x="32.10" y="557.20" font-size="7.4" fill="#222" text-anchor="end" stroke="#222" stroke-width="0.22" >0</text>
<line x1="35.50" y1="528.20" x2="38.50" y2="528.20" stroke="#111" stroke-width="1" />
<text x="32.10" y="530.80" font-size="7.4" fill="#222" text-anchor="end" stroke="#222" stroke-width="0.22" >1</text>
<line x1="35.50" y1="501.80" x2="38.50" y2="501.80" stroke="#111" stroke-width="1" />
<text x="32.10" y="504.40" font-size="7.4" fill="#222" text-anchor="end" stroke="#222" stroke-width="0.22" >2</text>
<line x1="35.50" y1="475.40" x2="38.50" y2="475.40" stroke="#111" stroke-width="1" />
<text x="32.10" y="478.00" font-size="7.4" fill="#222" text-anchor="end" stroke="#222" stroke-width="0.22" >3</text>
<line x1="35.50" y1="449.00" x2="38.50" y2="449.00" stroke="#111" stroke-width="1" />
<text x="32.10" y="451.60" font-size="7.4" fill="#222" text-anchor="end" stroke="#222" stroke-width="0.22" >4</text>
<line x1="59.60" y1="554.60" x2="59.60" y2="557.20" stroke="#111" stroke-width="0.9" />
<line x1="91.20" y1="554.60" x2="91.20" y2="557.20" stroke="#111" stroke-width="0.9" />
<line x1="123.00" y1="554.60" x2="123.00" y2="557.20" stroke="#111" stroke-width="0.9" />
<text x="54.70" y="567.30" font-size="8.2" fill="#222" text-anchor="start" textLength="10.50" lengthAdjust="spacingAndGlyphs" stroke="#222" stroke-width="0.22" >ctrl</text>
<text x="80.40" y="567.30" font-size="8.2" fill="#222" text-anchor="start" textLength="22.20" lengthAdjust="spacingAndGlyphs" stroke="#222" stroke-width="0.22" >sepsis</text>
<text x="106.60" y="567.30" font-size="8.2" fill="#222" text-anchor="start" textLength="38.40" lengthAdjust="spacingAndGlyphs" stroke="#222" stroke-width="0.22" >COVID-19</text>
<text x="23.30" y="500.50" font-size="8.0" fill="#1a1a1a" text-anchor="middle" textLength="56.40" lengthAdjust="spacingAndGlyphs" transform="rotate(-90 23.30 500.50)" stroke="#1a1a1a" stroke-width="0.32" >ATP release [nmol]</text>
<text x="377.50" y="422.70" font-size="10.8" fill="#000" text-anchor="start" font-weight="bold" stroke="#000" stroke-width="0.15" >I</text>
<text x="441.70" y="431.40" font-size="9.4" fill="#222" text-anchor="start" textLength="39.40" lengthAdjust="spacingAndGlyphs" stroke="#222" stroke-width="0.22" >WM-TEM</text>
<rect x="420.95" y="482.77" width="21.10" height="71.63" fill="#ececec" stroke="#858585" stroke-width="0.9" />
<rect x="452.45" y="520.96" width="21.10" height="33.44" fill="#f9d6d6" stroke="#b48c8c" stroke-width="0.9" />
<rect x="484.25" y="539.97" width="21.30" height="14.43" fill="#ecd6d6" stroke="#a08888" stroke-width="0.9" />
<circle cx="428.30" cy="466.58" r="1.45" fill="#f2f2f2" stroke="#6a6a6a" stroke-width="0.8" />
<circle cx="434.70" cy="466.58" r="1.45" fill="#f2f2f2" stroke="#6a6a6a" stroke-width="0.8" />
<circle cx="431.50" cy="475.20" r="1.60" fill="#8a8a8a" stroke="#555" stroke-width="0.6" />
<circle cx="428.30" cy="501.78" r="1.45" fill="#f2f2f2" stroke="#6a6a6a" stroke-width="0.8" />
<circle cx="434.70" cy="501.78" r="1.45" fill="#f2f2f2" stroke="#6a6a6a" stroke-width="0.8" />
<circle cx="463.00" cy="492.80" r="1.80" fill="#b01e1e" stroke="#7a1010" stroke-width="0.6" />
<circle cx="463.00" cy="501.60" r="1.80" fill="#b01e1e" stroke="#7a1010" stroke-width="0.6" />
<circle cx="459.50" cy="510.40" r="1.80" fill="#b01e1e" stroke="#7a1010" stroke-width="0.6" />
<circle cx="466.30" cy="510.40" r="1.80" fill="#b01e1e" stroke="#7a1010" stroke-width="0.6" />
<circle cx="459.50" cy="519.20" r="1.80" fill="#b01e1e" stroke="#7a1010" stroke-width="0.6" />
<circle cx="466.30" cy="519.20" r="1.80" fill="#b01e1e" stroke="#7a1010" stroke-width="0.6" />
<circle cx="456.30" cy="528.00" r="1.80" fill="#b01e1e" stroke="#7a1010" stroke-width="0.6" />
<circle cx="463.00" cy="528.00" r="1.80" fill="#b01e1e" stroke="#7a1010" stroke-width="0.6" />
<circle cx="469.30" cy="528.00" r="1.80" fill="#b01e1e" stroke="#7a1010" stroke-width="0.6" />
<circle cx="463.00" cy="536.80" r="1.80" fill="#b01e1e" stroke="#7a1010" stroke-width="0.6" />
<circle cx="463.00" cy="554.40" r="1.80" fill="#b01e1e" stroke="#7a1010" stroke-width="0.6" />
<circle cx="494.90" cy="501.60" r="1.80" fill="#5a0c0c" stroke="#300606" stroke-width="0.6" />
<circle cx="494.90" cy="519.20" r="1.80" fill="#5a0c0c" stroke="#300606" stroke-width="0.6" />
<circle cx="494.90" cy="528.00" r="1.80" fill="#5a0c0c" stroke="#300606" stroke-width="0.6" />
<circle cx="494.90" cy="536.80" r="1.80" fill="#5a0c0c" stroke="#300606" stroke-width="0.6" />
<circle cx="491.60" cy="545.60" r="1.80" fill="#5a0c0c" stroke="#300606" stroke-width="0.6" />
<circle cx="498.20" cy="545.60" r="1.80" fill="#5a0c0c" stroke="#300606" stroke-width="0.6" />
<circle cx="486.10" cy="554.40" r="1.80" fill="#5a0c0c" stroke="#300606" stroke-width="0.6" />
<circle cx="491.50" cy="554.40" r="1.80" fill="#5a0c0c" stroke="#300606" stroke-width="0.6" />
<circle cx="497.60" cy="554.40" r="1.80" fill="#5a0c0c" stroke="#300606" stroke-width="0.6" />
<circle cx="504.30" cy="554.40" r="1.80" fill="#5a0c0c" stroke="#300606" stroke-width="0.6" />
<line x1="431.50" y1="499.40" x2="431.50" y2="466.05" stroke="#1a1a1a" stroke-width="1.1" />
<line x1="426.10" y1="499.40" x2="436.90" y2="499.40" stroke="#1a1a1a" stroke-width="1.1" />
<line x1="426.10" y1="466.05" x2="436.90" y2="466.05" stroke="#1a1a1a" stroke-width="1.1" />
<line x1="463.00" y1="532.05" x2="463.00" y2="509.87" stroke="#1a1a1a" stroke-width="1.1" />
<line x1="457.60" y1="532.05" x2="468.40" y2="532.05" stroke="#1a1a1a" stroke-width="1.1" />
<line x1="457.60" y1="509.87" x2="468.40" y2="509.87" stroke="#1a1a1a" stroke-width="1.1" />
<line x1="494.90" y1="554.40" x2="494.90" y2="526.50" stroke="#1a1a1a" stroke-width="1.1" />
<line x1="489.50" y1="554.40" x2="500.30" y2="554.40" stroke="#1a1a1a" stroke-width="1.1" />
<line x1="489.50" y1="526.50" x2="500.30" y2="526.50" stroke="#1a1a1a" stroke-width="1.1" />
<line x1="410.10" y1="446.00" x2="410.10" y2="554.90" stroke="#111" stroke-width="1.1" />
<line x1="409.60" y1="554.40" x2="517.30" y2="554.40" stroke="#111" stroke-width="1.1" />
<line x1="407.10" y1="554.40" x2="410.10" y2="554.40" stroke="#111" stroke-width="1" />
<text x="403.70" y="557.00" font-size="7.4" fill="#222" text-anchor="end" stroke="#222" stroke-width="0.22" >0</text>
<line x1="407.10" y1="519.20" x2="410.10" y2="519.20" stroke="#111" stroke-width="1" />
<text x="403.70" y="521.80" font-size="7.4" fill="#222" text-anchor="end" stroke="#222" stroke-width="0.22" >2</text>
<line x1="407.10" y1="484.00" x2="410.10" y2="484.00" stroke="#111" stroke-width="1" />
<text x="403.70" y="486.60" font-size="7.4" fill="#222" text-anchor="end" stroke="#222" stroke-width="0.22" >4</text>
<line x1="407.10" y1="448.80" x2="410.10" y2="448.80" stroke="#111" stroke-width="1" />
<text x="403.70" y="451.40" font-size="7.4" fill="#222" text-anchor="end" stroke="#222" stroke-width="0.22" >6</text>
<line x1="431.50" y1="554.40" x2="431.50" y2="557.00" stroke="#111" stroke-width="0.9" />
<line x1="463.00" y1="554.40" x2="463.00" y2="557.00" stroke="#111" stroke-width="0.9" />
<line x1="494.90" y1="554.40" x2="494.90" y2="557.00" stroke="#111" stroke-width="0.9" />
<text x="426.10" y="567.10" font-size="8.2" fill="#222" text-anchor="start" textLength="10.70" lengthAdjust="spacingAndGlyphs" stroke="#222" stroke-width="0.22" >ctrl</text>
<text x="452.40" y="567.10" font-size="8.2" fill="#222" text-anchor="start" textLength="22.20" lengthAdjust="spacingAndGlyphs" stroke="#222" stroke-width="0.22" >sepsis</text>
<text x="479.20" y="567.10" font-size="8.2" fill="#222" text-anchor="start" textLength="36.80" lengthAdjust="spacingAndGlyphs" stroke="#222" stroke-width="0.22" >COVID-19</text>
<path d="M431.50,443.90 L431.50,441.60 L494.90,441.60 L494.90,443.90" stroke="#3a3a3a" stroke-width="1.15" fill="none" />
<circle cx="460.30" cy="437.40" r="0.95" fill="#333" stroke="none" stroke-width="1" />
<circle cx="463.40" cy="437.40" r="0.95" fill="#333" stroke="none" stroke-width="1" />
<circle cx="466.50" cy="437.40" r="0.95" fill="#333" stroke="none" stroke-width="1" />
<path d="M431.50,458.50 L431.50,456.20 L463.00,456.20 L463.00,458.50" stroke="#3a3a3a" stroke-width="1.15" fill="none" />
<path d="M463.00,458.50 L463.00,456.20 L494.90,456.20 L494.90,458.50" stroke="#3a3a3a" stroke-width="1.15" fill="none" />
<circle cx="448.20" cy="451.00" r="0.95" fill="#333" stroke="none" stroke-width="1" />
<text x="481.00" y="452.80" font-size="7.6" fill="#333" text-anchor="middle" stroke="#333" stroke-width="0.22" >ns</text>
<text x="393.40" y="497.20" font-size="7.8" fill="#1a1a1a" text-anchor="middle" textLength="71.00" lengthAdjust="spacingAndGlyphs" transform="rotate(-90 393.40 497.20)" stroke="#1a1a1a" stroke-width="0.32" >Dense granules/PLT [n]</text>
<text x="210.00" y="423.00" font-size="10.8" fill="#000" text-anchor="start" font-weight="bold" stroke="#000" stroke-width="0.15" >H</text>
<defs>
<filter id="b1" x="-20%" y="-20%" width="140%" height="140%"><feGaussianBlur stdDeviation="0.9"/></filter>
<filter id="b2" x="-30%" y="-30%" width="160%" height="160%"><feGaussianBlur stdDeviation="2.6"/></filter>
<filter id="b05"><feGaussianBlur stdDeviation="0.45"/></filter>
<clipPath id="cpc"><rect x="232.3" y="432.3" width="54.5" height="52.9"/></clipPath>
<clipPath id="cps"><rect x="232.3" y="492.7" width="54.8" height="55"/></clipPath>
<clipPath id="cpv"><rect x="294.3" y="492.7" width="56.6" height="55"/></clipPath>
<radialGradient id="gcc" cx="0.45" cy="0.45" r="0.6"><stop offset="0" stop-color="#dcdcdc"/><stop offset="0.75" stop-color="#cfcfcf"/><stop offset="1" stop-color="#b0b0b0"/></radialGradient>
<radialGradient id="gcs" cx="0.5" cy="0.5" r="0.55"><stop offset="0" stop-color="#ececec"/><stop offset="0.8" stop-color="#e2e2e2"/><stop offset="1" stop-color="#c4c4c4"/></radialGradient>
<radialGradient id="gcv" cx="0.6" cy="0.45" r="0.6"><stop offset="0" stop-color="#c0c0c0"/><stop offset="0.7" stop-color="#b2b2b2"/><stop offset="1" stop-color="#969696"/></radialGradient>
</defs>
<g clip-path="url(#cpc)">
<rect x="232.30" y="432.30" width="54.50" height="52.90" fill="#6a6a6a" stroke="none" stroke-width="1" />
<rect x="268.00" y="432.30" width="19.00" height="22.00" fill="#7c7c7c" stroke="none" stroke-width="1" filter="url(#b2)"/>
<ellipse cx="258.40" cy="458.20" rx="24.50" ry="22.50" fill="#555" stroke="none" stroke-width="1" filter="url(#b2)"/>
<ellipse cx="258.40" cy="458.00" rx="21.40" ry="19.60" fill="url(#gcc)" stroke="none" stroke-width="1" filter="url(#b1)"/>
<circle cx="255.35" cy="460.54" r="1.00" fill="#9c9c9c" stroke="none" stroke-width="1" filter="url(#b05)"/>
<circle cx="247.44" cy="452.74" r="1.46" fill="#9c9c9c" stroke="none" stroke-width="1" filter="url(#b05)"/>
<circle cx="266.61" cy="448.09" r="0.81" fill="#b4b4b4" stroke="none" stroke-width="1" filter="url(#b05)"/>
<circle cx="250.43" cy="446.45" r="1.33" fill="#b4b4b4" stroke="none" stroke-width="1" filter="url(#b05)"/>
<circle cx="275.98" cy="456.67" r="1.18" fill="#dadada" stroke="none" stroke-width="1" filter="url(#b05)"/>
<circle cx="252.10" cy="449.69" r="0.87" fill="#e2e2e2" stroke="none" stroke-width="1" filter="url(#b05)"/>
<circle cx="273.67" cy="460.89" r="1.81" fill="#b4b4b4" stroke="none" stroke-width="1" filter="url(#b05)"/>
<circle cx="264.22" cy="460.57" r="1.37" fill="#e2e2e2" stroke="none" stroke-width="1" filter="url(#b05)"/>
<circle cx="257.33" cy="456.24" r="1.90" fill="#b4b4b4" stroke="none" stroke-width="1" filter="url(#b05)"/>
<circle cx="263.80" cy="459.70" r="1.54" fill="#e2e2e2" stroke="none" stroke-width="1" filter="url(#b05)"/>
<circle cx="251.49" cy="454.69" r="1.76" fill="#a8a8a8" stroke="none" stroke-width="1" filter="url(#b05)"/>
<circle cx="257.57" cy="460.24" r="1.60" fill="#9c9c9c" stroke="none" stroke-width="1" filter="url(#b05)"/>
<circle cx="270.11" cy="459.43" r="1.83" fill="#b4b4b4" stroke="none" stroke-width="1" filter="url(#b05)"/>
<circle cx="260.81" cy="458.30" r="1.35" fill="#9c9c9c" stroke="none" stroke-width="1" filter="url(#b05)"/>
<circle cx="246.44" cy="463.43" r="1.45" fill="#a8a8a8" stroke="none" stroke-width="1" filter="url(#b05)"/>
<circle cx="255.15" cy="453.69" r="0.97" fill="#a8a8a8" stroke="none" stroke-width="1" filter="url(#b05)"/>
<circle cx="255.67" cy="446.59" r="1.62" fill="#a8a8a8" stroke="none" stroke-width="1" filter="url(#b05)"/>
<circle cx="271.05" cy="457.03" r="1.87" fill="#9c9c9c" stroke="none" stroke-width="1" filter="url(#b05)"/>
<circle cx="250.85" cy="447.94" r="1.53" fill="#9c9c9c" stroke="none" stroke-width="1" filter="url(#b05)"/>
<circle cx="256.96" cy="457.04" r="1.93" fill="#b4b4b4" stroke="none" stroke-width="1" filter="url(#b05)"/>
<circle cx="246.21" cy="462.55" r="1.62" fill="#9c9c9c" stroke="none" stroke-width="1" filter="url(#b05)"/>
<circle cx="258.76" cy="456.70" r="1.60" fill="#e2e2e2" stroke="none" stroke-width="1" filter="url(#b05)"/>
<circle cx="261.36" cy="468.79" r="1.13" fill="#dadada" stroke="none" stroke-width="1" filter="url(#b05)"/>
<circle cx="262.39" cy="448.57" r="1.75" fill="#dadada" stroke="none" stroke-width="1" filter="url(#b05)"/>
<circle cx="258.49" cy="446.14" r="1.06" fill="#b4b4b4" stroke="none" stroke-width="1" filter="url(#b05)"/>
<circle cx="259.31" cy="461.56" r="1.36" fill="#b4b4b4" stroke="none" stroke-width="1" filter="url(#b05)"/>
<circle cx="262.33" cy="459.51" r="1.48" fill="#b4b4b4" stroke="none" stroke-width="1" filter="url(#b05)"/>
<circle cx="256.21" cy="458.09" r="1.26" fill="#a8a8a8" stroke="none" stroke-width="1" filter="url(#b05)"/>
<circle cx="261.95" cy="451.50" r="1.69" fill="#b4b4b4" stroke="none" stroke-width="1" filter="url(#b05)"/>
<circle cx="249.92" cy="455.39" r="1.96" fill="#dadada" stroke="none" stroke-width="1" filter="url(#b05)"/>
<circle cx="258.63" cy="457.57" r="1.51" fill="#b4b4b4" stroke="none" stroke-width="1" filter="url(#b05)"/>
<circle cx="252.44" cy="451.65" r="1.58" fill="#b4b4b4" stroke="none" stroke-width="1" filter="url(#b05)"/>
<circle cx="243.54" cy="466.34" r="1.95" fill="#a8a8a8" stroke="none" stroke-width="1" filter="url(#b05)"/>
<circle cx="247.71" cy="457.41" r="1.22" fill="#9c9c9c" stroke="none" stroke-width="1" filter="url(#b05)"/>
<circle cx="272.79" cy="451.08" r="1.17" fill="#b4b4b4" stroke="none" stroke-width="1" filter="url(#b05)"/>
<circle cx="258.01" cy="464.14" r="1.08" fill="#a8a8a8" stroke="none" stroke-width="1" filter="url(#b05)"/>
<circle cx="261.82" cy="454.68" r="1.50" fill="#dadada" stroke="none" stroke-width="1" filter="url(#b05)"/>
<circle cx="251.14" cy="462.55" r="1.82" fill="#a8a8a8" stroke="none" stroke-width="1" filter="url(#b05)"/>
<circle cx="247.71" cy="457.99" r="1.08" fill="#b4b4b4" stroke="none" stroke-width="1" filter="url(#b05)"/>
<circle cx="262.71" cy="455.31" r="1.10" fill="#9c9c9c" stroke="none" stroke-width="1" filter="url(#b05)"/>
<circle cx="272.22" cy="453.07" r="0.87" fill="#e2e2e2" stroke="none" stroke-width="1" filter="url(#b05)"/>
<circle cx="271.88" cy="460.06" r="1.03" fill="#9c9c9c" stroke="none" stroke-width="1" filter="url(#b05)"/>
<circle cx="255.50" cy="463.33" r="1.01" fill="#a8a8a8" stroke="none" stroke-width="1" filter="url(#b05)"/>
<circle cx="261.17" cy="471.92" r="1.42" fill="#b4b4b4" stroke="none" stroke-width="1" filter="url(#b05)"/>
<circle cx="268.87" cy="459.59" r="1.25" fill="#b4b4b4" stroke="none" stroke-width="1" filter="url(#b05)"/>
<circle cx="260.58" cy="454.07" r="0.83" fill="#e2e2e2" stroke="none" stroke-width="1" filter="url(#b05)"/>
<circle cx="257.40" cy="451.82" r="1.02" fill="#e2e2e2" stroke="none" stroke-width="1" filter="url(#b05)"/>
<circle cx="254.11" cy="465.31" r="1.02" fill="#a8a8a8" stroke="none" stroke-width="1" filter="url(#b05)"/>
<circle cx="246.59" cy="453.17" r="1.03" fill="#b4b4b4" stroke="none" stroke-width="1" filter="url(#b05)"/>
<circle cx="258.14" cy="459.40" r="1.59" fill="#9c9c9c" stroke="none" stroke-width="1" filter="url(#b05)"/>
<circle cx="263.96" cy="458.53" r="1.17" fill="#a8a8a8" stroke="none" stroke-width="1" filter="url(#b05)"/>
<circle cx="242.96" cy="454.01" r="1.18" fill="#9c9c9c" stroke="none" stroke-width="1" filter="url(#b05)"/>
<circle cx="258.50" cy="451.97" r="1.75" fill="#a8a8a8" stroke="none" stroke-width="1" filter="url(#b05)"/>
<circle cx="264.70" cy="460.75" r="0.99" fill="#9c9c9c" stroke="none" stroke-width="1" filter="url(#b05)"/>
<circle cx="259.73" cy="460.28" r="0.91" fill="#a8a8a8" stroke="none" stroke-width="1" filter="url(#b05)"/>
<circle cx="251.91" cy="471.41" r="1.18" fill="#a8a8a8" stroke="none" stroke-width="1" filter="url(#b05)"/>
<circle cx="263.91" cy="471.75" r="1.97" fill="#a8a8a8" stroke="none" stroke-width="1" filter="url(#b05)"/>
<circle cx="271.49" cy="449.02" r="1.96" fill="#dadada" stroke="none" stroke-width="1" filter="url(#b05)"/>
<circle cx="241.81" cy="455.53" r="1.13" fill="#b4b4b4" stroke="none" stroke-width="1" filter="url(#b05)"/>
<circle cx="258.68" cy="443.86" r="1.73" fill="#9c9c9c" stroke="none" stroke-width="1" filter="url(#b05)"/>
<circle cx="253.88" cy="458.41" r="1.62" fill="#e2e2e2" stroke="none" stroke-width="1" filter="url(#b05)"/>
<circle cx="255.30" cy="449.15" r="0.99" fill="#b4b4b4" stroke="none" stroke-width="1" filter="url(#b05)"/>
<circle cx="258.55" cy="457.61" r="1.13" fill="#a8a8a8" stroke="none" stroke-width="1" filter="url(#b05)"/>
<circle cx="262.58" cy="468.09" r="1.14" fill="#dadada" stroke="none" stroke-width="1" filter="url(#b05)"/>
<circle cx="263.11" cy="455.88" r="1.14" fill="#a8a8a8" stroke="none" stroke-width="1" filter="url(#b05)"/>
<circle cx="268.51" cy="444.70" r="1.17" fill="#9c9c9c" stroke="none" stroke-width="1" filter="url(#b05)"/>
<circle cx="265.42" cy="451.78" r="1.66" fill="#dadada" stroke="none" stroke-width="1" filter="url(#b05)"/>
<circle cx="255.88" cy="454.97" r="1.91" fill="#9c9c9c" stroke="none" stroke-width="1" filter="url(#b05)"/>
<circle cx="248.72" cy="451.67" r="1.30" fill="#b4b4b4" stroke="none" stroke-width="1" filter="url(#b05)"/>
<circle cx="261.95" cy="458.77" r="1.16" fill="#dadada" stroke="none" stroke-width="1" filter="url(#b05)"/>
<circle cx="263.77" cy="459.79" r="1.08" fill="#4a4a4a" stroke="none" stroke-width="1" />
<circle cx="262.35" cy="453.17" r="1.29" fill="#1a1a1a" stroke="none" stroke-width="1" />
<circle cx="252.80" cy="454.90" r="0.66" fill="#1a1a1a" stroke="none" stroke-width="1" />
<circle cx="262.08" cy="448.38" r="1.28" fill="#1a1a1a" stroke="none" stroke-width="1" />
<circle cx="265.05" cy="463.25" r="0.79" fill="#4a4a4a" stroke="none" stroke-width="1" />
<circle cx="247.58" cy="465.95" r="0.71" fill="#1a1a1a" stroke="none" stroke-width="1" />
<circle cx="267.06" cy="454.62" r="1.15" fill="#4a4a4a" stroke="none" stroke-width="1" />
<circle cx="252.13" cy="462.74" r="0.86" fill="#1a1a1a" stroke="none" stroke-width="1" />
<circle cx="262.76" cy="455.29" r="0.96" fill="#3a3a3a" stroke="none" stroke-width="1" />
<circle cx="260.50" cy="469.90" r="1.05" fill="#3a3a3a" stroke="none" stroke-width="1" />
<circle cx="246.89" cy="459.81" r="0.77" fill="#2a2a2a" stroke="none" stroke-width="1" />
<circle cx="263.12" cy="467.41" r="0.66" fill="#3a3a3a" stroke="none" stroke-width="1" />
<circle cx="261.15" cy="457.48" r="0.77" fill="#2a2a2a" stroke="none" stroke-width="1" />
<circle cx="259.40" cy="461.19" r="0.72" fill="#1a1a1a" stroke="none" stroke-width="1" />
<circle cx="257.23" cy="458.05" r="0.65" fill="#1a1a1a" stroke="none" stroke-width="1" />
<circle cx="258.77" cy="451.38" r="0.66" fill="#3a3a3a" stroke="none" stroke-width="1" />
<circle cx="248.35" cy="467.56" r="0.70" fill="#3a3a3a" stroke="none" stroke-width="1" />
<circle cx="258.93" cy="459.97" r="0.65" fill="#4a4a4a" stroke="none" stroke-width="1" />
<circle cx="257.15" cy="461.55" r="0.93" fill="#3a3a3a" stroke="none" stroke-width="1" />
<circle cx="263.08" cy="462.07" r="0.89" fill="#3a3a3a" stroke="none" stroke-width="1" />
<circle cx="245.16" cy="462.66" r="1.15" fill="#3a3a3a" stroke="none" stroke-width="1" />
<circle cx="257.79" cy="459.92" r="0.91" fill="#3a3a3a" stroke="none" stroke-width="1" />
<circle cx="251.23" cy="461.23" r="0.71" fill="#4a4a4a" stroke="none" stroke-width="1" />
<circle cx="262.17" cy="448.91" r="0.76" fill="#3a3a3a" stroke="none" stroke-width="1" />
<circle cx="263.48" cy="462.21" r="0.80" fill="#2a2a2a" stroke="none" stroke-width="1" />
<circle cx="259.93" cy="458.70" r="0.60" fill="#4a4a4a" stroke="none" stroke-width="1" />
<circle cx="256.94" cy="450.96" r="1.01" fill="#1a1a1a" stroke="none" stroke-width="1" />
<circle cx="251.23" cy="455.63" r="0.76" fill="#1a1a1a" stroke="none" stroke-width="1" />
<circle cx="255.38" cy="457.79" r="1.05" fill="#1a1a1a" stroke="none" stroke-width="1" />
<circle cx="263.05" cy="459.59" r="0.77" fill="#4a4a4a" stroke="none" stroke-width="1" />
<circle cx="240.50" cy="463.50" r="1.30" fill="#1a1a1a" stroke="none" stroke-width="1" />
<circle cx="249.00" cy="465.00" r="1.20" fill="#1a1a1a" stroke="none" stroke-width="1" />
<circle cx="266.50" cy="462.00" r="1.40" fill="#1a1a1a" stroke="none" stroke-width="1" />
<circle cx="270.00" cy="455.50" r="1.20" fill="#1a1a1a" stroke="none" stroke-width="1" />
<circle cx="255.00" cy="451.00" r="1.10" fill="#1a1a1a" stroke="none" stroke-width="1" />
<circle cx="261.00" cy="468.50" r="1.20" fill="#1a1a1a" stroke="none" stroke-width="1" />
<circle cx="257.00" cy="455.00" r="1.50" fill="#1a1a1a" stroke="none" stroke-width="1" />
</g>
<circle cx="263.50" cy="458.80" r="3.40" fill="#e0141e" stroke="none" stroke-width="1" opacity="0.85" filter="url(#b05)"/>
<circle cx="248.30" cy="458.50" r="2.20" fill="#e0141e" stroke="none" stroke-width="1" opacity="0.8" filter="url(#b05)"/>
<path d="M254.20,445.50 L252.53,440.18 L249.40,442.67 Z" fill="#e3121c" opacity="0.92"/>
<path d="M262.00,458.50 L267.32,457.64 L265.25,454.21 Z" fill="#e3121c" opacity="0.92"/>
<path d="M266.50,457.00 L271.06,454.13 L267.83,451.78 Z" fill="#e3121c" opacity="0.92"/>
<path d="M264.00,461.50 L269.33,462.25 L268.38,458.36 Z" fill="#e3121c" opacity="0.92"/>
<path d="M268.50,460.50 L271.79,457.39 L268.70,455.97 Z" fill="#e3121c" opacity="0.92"/>
<path d="M248.50,456.00 L248.99,450.67 L245.33,451.69 Z" fill="#e3121c" opacity="0.92"/>
<path d="M249.50,462.00 L252.03,457.29 L248.26,456.80 Z" fill="#e3121c" opacity="0.92"/>
<path d="M246.50,459.00 L243.93,455.77 L242.40,458.58 Z" fill="#e3121c" opacity="0.92"/>
<text x="232.60" y="439.70" font-size="8.8" fill="#fff" text-anchor="start" font-weight="bold" textLength="13.80" lengthAdjust="spacingAndGlyphs" >ctrl</text>
<g clip-path="url(#cps)">
<rect x="232.30" y="492.70" width="54.80" height="55.00" fill="#6e6e6e" stroke="none" stroke-width="1" />
<ellipse cx="257.50" cy="521.50" rx="25.50" ry="27.00" fill="#262626" stroke="none" stroke-width="1" filter="url(#b2)"/>
<circle cx="276.20" cy="532.50" r="7.00" fill="#262626" stroke="none" stroke-width="1" filter="url(#b2)"/>
<ellipse cx="256.90" cy="521.50" rx="18.60" ry="20.80" fill="url(#gcs)" stroke="none" stroke-width="1" filter="url(#b1)"/>
<circle cx="276.20" cy="532.30" r="4.30" fill="#dadada" stroke="none" stroke-width="1" filter="url(#b1)"/>
<circle cx="251.51" cy="526.39" r="1.97" fill="#bcbcbc" stroke="none" stroke-width="1" filter="url(#b1)"/>
<circle cx="255.13" cy="530.31" r="2.76" fill="#b4b4b4" stroke="none" stroke-width="1" filter="url(#b1)"/>
<circle cx="250.97" cy="526.83" r="1.66" fill="#bcbcbc" stroke="none" stroke-width="1" filter="url(#b1)"/>
<circle cx="250.66" cy="527.93" r="1.84" fill="#c4c4c4" stroke="none" stroke-width="1" filter="url(#b1)"/>
<circle cx="254.78" cy="536.54" r="2.88" fill="#b4b4b4" stroke="none" stroke-width="1" filter="url(#b1)"/>
<circle cx="253.23" cy="524.34" r="2.22" fill="#a8a8a8" stroke="none" stroke-width="1" filter="url(#b1)"/>
<circle cx="261.08" cy="538.77" r="2.07" fill="#b4b4b4" stroke="none" stroke-width="1" filter="url(#b1)"/>
<circle cx="248.14" cy="532.11" r="2.08" fill="#a8a8a8" stroke="none" stroke-width="1" filter="url(#b1)"/>
<circle cx="257.04" cy="518.32" r="2.41" fill="#c4c4c4" stroke="none" stroke-width="1" filter="url(#b1)"/>
<circle cx="258.11" cy="530.49" r="2.57" fill="#a8a8a8" stroke="none" stroke-width="1" filter="url(#b1)"/>
<circle cx="243.13" cy="523.31" r="1.58" fill="#bcbcbc" stroke="none" stroke-width="1" filter="url(#b1)"/>
<circle cx="255.14" cy="514.81" r="2.95" fill="#b4b4b4" stroke="none" stroke-width="1" filter="url(#b1)"/>
<circle cx="247.24" cy="532.86" r="2.92" fill="#bcbcbc" stroke="none" stroke-width="1" filter="url(#b1)"/>
<circle cx="249.76" cy="531.10" r="1.95" fill="#b4b4b4" stroke="none" stroke-width="1" filter="url(#b1)"/>
<circle cx="249.73" cy="525.59" r="2.74" fill="#bcbcbc" stroke="none" stroke-width="1" filter="url(#b1)"/>
<circle cx="247.64" cy="529.16" r="3.07" fill="#bcbcbc" stroke="none" stroke-width="1" filter="url(#b1)"/>
<circle cx="247.83" cy="517.31" r="2.82" fill="#bcbcbc" stroke="none" stroke-width="1" filter="url(#b1)"/>
<circle cx="258.43" cy="517.90" r="2.18" fill="#b4b4b4" stroke="none" stroke-width="1" filter="url(#b1)"/>
<circle cx="256.46" cy="540.45" r="2.99" fill="#a8a8a8" stroke="none" stroke-width="1" filter="url(#b1)"/>
<circle cx="254.98" cy="535.43" r="3.00" fill="#c4c4c4" stroke="none" stroke-width="1" filter="url(#b1)"/>
<circle cx="255.38" cy="530.68" r="2.77" fill="#a8a8a8" stroke="none" stroke-width="1" filter="url(#b1)"/>
<circle cx="252.86" cy="521.19" r="2.49" fill="#a8a8a8" stroke="none" stroke-width="1" filter="url(#b1)"/>
<circle cx="247.00" cy="530.00" r="0.80" fill="#6a6a6a" stroke="none" stroke-width="1" />
<circle cx="251.00" cy="536.00" r="0.70" fill="#6a6a6a" stroke="none" stroke-width="1" />
<circle cx="258.00" cy="533.00" r="0.80" fill="#6a6a6a" stroke="none" stroke-width="1" />
<circle cx="244.00" cy="522.00" r="0.60" fill="#6a6a6a" stroke="none" stroke-width="1" />
</g>
<circle cx="264.50" cy="511.00" r="3.20" fill="#e0141e" stroke="none" stroke-width="1" opacity="0.8" filter="url(#b05)"/>
<path d="M263.50,510.50 L263.46,505.15 L259.92,506.53 Z" fill="#e3121c" opacity="0.92"/>
<path d="M261.00,508.00 L258.81,503.16 L256.23,505.67 Z" fill="#e3121c" opacity="0.92"/>
<path d="M268.00,515.00 L272.84,515.19 L271.64,511.80 Z" fill="#e3121c" opacity="0.92"/>
<path d="M266.50,512.50 L270.66,509.14 L267.38,507.22 Z" fill="#e3121c" opacity="0.92"/>
<path d="M262.00,514.50 L259.25,510.56 L257.33,513.36 Z" fill="#e3121c" opacity="0.92"/>
<path d="M268.50,508.50 L272.82,507.27 L270.91,504.70 Z" fill="#e3121c" opacity="0.92"/>
<text x="232.60" y="500.30" font-size="8.8" fill="#fff" text-anchor="start" font-weight="bold" textLength="15.30" lengthAdjust="spacingAndGlyphs" >sep</text>
<g clip-path="url(#cpv)">
<rect x="294.30" y="492.70" width="56.60" height="55.00" fill="#727272" stroke="none" stroke-width="1" />
<ellipse cx="323.20" cy="518.40" rx="25.00" ry="24.00" fill="#303030" stroke="none" stroke-width="1" filter="url(#b2)"/>
<ellipse cx="323.20" cy="518.20" rx="18.40" ry="17.40" fill="url(#gcv)" stroke="none" stroke-width="1" filter="url(#b1)"/>
<circle cx="311.00" cy="514.00" r="1.60" fill="#a2a2a2" stroke="none" stroke-width="1" filter="url(#b05)"/>
<circle cx="315.00" cy="518.00" r="1.30" fill="#a2a2a2" stroke="none" stroke-width="1" filter="url(#b05)"/>
<circle cx="313.00" cy="523.00" r="1.20" fill="#a2a2a2" stroke="none" stroke-width="1" filter="url(#b05)"/>
<circle cx="318.00" cy="526.00" r="1.40" fill="#a2a2a2" stroke="none" stroke-width="1" filter="url(#b05)"/>
<circle cx="316.00" cy="530.00" r="1.80" fill="#a2a2a2" stroke="none" stroke-width="1" filter="url(#b05)"/>
<circle cx="299.00" cy="507.00" r="0.80" fill="#cfcfcf" stroke="none" stroke-width="1" />
<circle cx="340.00" cy="501.00" r="0.80" fill="#cfcfcf" stroke="none" stroke-width="1" />
<circle cx="348.00" cy="527.00" r="0.80" fill="#cfcfcf" stroke="none" stroke-width="1" />
<circle cx="331.00" cy="540.00" r="0.80" fill="#cfcfcf" stroke="none" stroke-width="1" />
<circle cx="318.00" cy="539.00" r="0.80" fill="#cfcfcf" stroke="none" stroke-width="1" />
</g>
<text x="295.40" y="499.80" font-size="8.8" fill="#fff" text-anchor="start" font-weight="bold" textLength="15.50" lengthAdjust="spacingAndGlyphs" >cov</text>
<rect x="275.00" y="482.50" width="7.00" height="1.00" fill="#e8e8e8" stroke="none" stroke-width="1" />
<rect x="276.00" y="545.50" width="7.00" height="1.00" fill="#e8e8e8" stroke="none" stroke-width="1" />
<rect x="341.00" y="545.50" width="7.00" height="1.00" fill="#e8e8e8" stroke="none" stroke-width="1" />
</svg>
</body></html>
